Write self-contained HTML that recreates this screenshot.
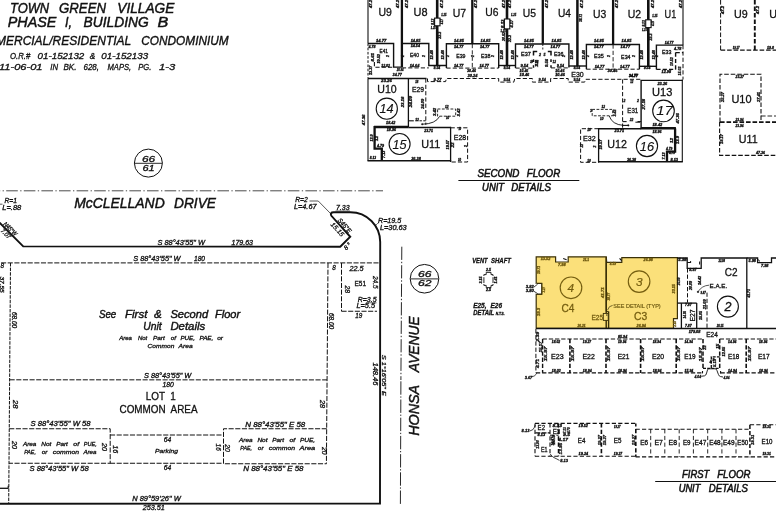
<!DOCTYPE html>
<html><head><meta charset="utf-8"><title>Parcel Map</title>
<style>
html,body{margin:0;padding:0;background:#fff;}
body{width:776px;height:521px;overflow:hidden;font-family:"Liberation Sans",sans-serif;}
svg{display:block;will-change:transform;font-family:"Liberation Sans",sans-serif;}
svg text{white-space:pre;stroke:#111;stroke-width:0.3px;}
</style></head><body>
<svg width="776" height="521" viewBox="0 0 776 521">
<rect x="0" y="0" width="776" height="521" fill="#fff"/>
<text x="10" y="12.8" style="font-size:14.4px;font-style:italic;stroke-width:0.45px;" fill="#111" textLength="39.2" lengthAdjust="spacingAndGlyphs">TOWN</text>
<text x="59" y="12.8" style="font-size:14.4px;font-style:italic;stroke-width:0.45px;" fill="#111" textLength="47" lengthAdjust="spacingAndGlyphs">GREEN</text>
<text x="117.3" y="12.8" style="font-size:14.4px;font-style:italic;stroke-width:0.45px;" fill="#111" textLength="57.0" lengthAdjust="spacingAndGlyphs">VILLAGE</text>
<text x="7.7" y="27.2" style="font-size:14.2px;font-style:italic;stroke-width:0.45px;" fill="#111" textLength="48.7" lengthAdjust="spacingAndGlyphs">PHASE</text>
<text x="65" y="27.2" style="font-size:14.2px;font-style:italic;stroke-width:0.45px;" fill="#111" textLength="7" lengthAdjust="spacingAndGlyphs">I,</text>
<text x="83.5" y="27.2" style="font-size:14.2px;font-style:italic;stroke-width:0.45px;" fill="#111" textLength="65.2" lengthAdjust="spacingAndGlyphs">BUILDING</text>
<text x="157.5" y="27.2" style="font-size:14.2px;font-style:italic;stroke-width:0.45px;" fill="#111" textLength="10.8" lengthAdjust="spacingAndGlyphs">B</text>
<text x="-4" y="45" style="font-size:12px;font-style:italic;stroke-width:0.35px;" fill="#111" textLength="135.2" lengthAdjust="spacingAndGlyphs">MERCIAL/RESIDENTIAL</text>
<text x="141.3" y="45" style="font-size:12px;font-style:italic;stroke-width:0.35px;" fill="#111" textLength="87.4" lengthAdjust="spacingAndGlyphs">CONDOMINIUM</text>
<text x="10" y="58.9" style="font-size:8.5px;font-style:italic;stroke-width:0.3px;" fill="#111" textLength="20.2" lengthAdjust="spacingAndGlyphs">O.R.#</text>
<text x="37.6" y="58.9" style="font-size:8.5px;font-style:italic;stroke-width:0.3px;" fill="#111" textLength="46.7" lengthAdjust="spacingAndGlyphs">01-152132</text>
<text x="89.7" y="58.9" style="font-size:8.5px;font-style:italic;stroke-width:0.3px;" fill="#111" textLength="5.4" lengthAdjust="spacingAndGlyphs">&amp;</text>
<text x="101.3" y="58.9" style="font-size:8.5px;font-style:italic;stroke-width:0.3px;" fill="#111" textLength="46.9" lengthAdjust="spacingAndGlyphs">01-152133</text>
<text x="-1" y="70" style="font-size:8.5px;font-style:italic;stroke-width:0.3px;" fill="#111" textLength="43.5" lengthAdjust="spacingAndGlyphs">11-06-01</text>
<text x="50.3" y="70" style="font-size:8.5px;font-style:italic;stroke-width:0.3px;" fill="#111" textLength="7.7" lengthAdjust="spacingAndGlyphs">IN</text>
<text x="63.4" y="70" style="font-size:8.5px;font-style:italic;stroke-width:0.3px;" fill="#111" textLength="13.1" lengthAdjust="spacingAndGlyphs">BK.</text>
<text x="83.5" y="70" style="font-size:8.5px;font-style:italic;stroke-width:0.3px;" fill="#111" textLength="15.5" lengthAdjust="spacingAndGlyphs">628,</text>
<text x="107.5" y="70" style="font-size:8.5px;font-style:italic;stroke-width:0.3px;" fill="#111" textLength="23.7" lengthAdjust="spacingAndGlyphs">MAPS,</text>
<text x="138.2" y="70" style="font-size:8.5px;font-style:italic;stroke-width:0.3px;" fill="#111" textLength="13.1" lengthAdjust="spacingAndGlyphs">PG.</text>
<text x="159" y="70" style="font-size:8.5px;font-style:italic;stroke-width:0.3px;" fill="#111" textLength="16.3" lengthAdjust="spacingAndGlyphs">1-3</text>
<circle cx="148.4" cy="163.1" r="14" fill="none" stroke="#111" stroke-width="1"/>
<line x1="134.8" y1="163.3" x2="162" y2="163.3" stroke="#111" stroke-width="0.9"/>
<text x="148.6" y="161.8" style="font-size:8.6px;font-style:italic;" fill="#111" textLength="13.2" lengthAdjust="spacingAndGlyphs" text-anchor="middle">66</text>
<text x="148.6" y="170.6" style="font-size:8.6px;font-style:italic;" fill="#111" textLength="12.2" lengthAdjust="spacingAndGlyphs" text-anchor="middle">61</text>
<line x1="-11.4" y1="190.8" x2="383" y2="190.8" stroke="#2a2a2a" stroke-width="0.85" stroke-dasharray="11.6 2.4 1.3 2.3"/>
<text x="74.2" y="208" style="font-size:14.5px;font-style:italic;stroke-width:0.45px;" fill="#111" textLength="90.5" lengthAdjust="spacingAndGlyphs">McCLELLAND</text>
<text x="174" y="208" style="font-size:14.5px;font-style:italic;stroke-width:0.45px;" fill="#111" textLength="42" lengthAdjust="spacingAndGlyphs">DRIVE</text>
<path d="M-1,222.2 L23.2,246.4 L340.25,246.75 L350.25,236.75 L331.4,215.8 Q329.6,212.3 333.6,212.3 L350.4,212.3 A29.8,29.8 0 0 1 380.2,242.1 L380,503.5 L0,503.8" fill="none" stroke="#111" stroke-width="1.9"/>
<line x1="-5.6" y1="262.9" x2="380" y2="262.9" stroke="#111" stroke-width="1" stroke-dasharray="5.1 1.55"/>
<line x1="10.5" y1="263" x2="8.7" y2="503" stroke="#111" stroke-width="1" stroke-dasharray="3.5 1.1"/>
<line x1="328" y1="263" x2="326.4" y2="463.75" stroke="#111" stroke-width="1" stroke-dasharray="5.1 1.55"/>
<line x1="9.6" y1="379.8" x2="327" y2="379.9" stroke="#111" stroke-width="1" stroke-dasharray="5.1 1.55"/>
<line x1="341.5" y1="263" x2="341.5" y2="311.25" stroke="#111" stroke-width="1" stroke-dasharray="5.1 1.55"/>
<line x1="341.5" y1="311.25" x2="377" y2="311.25" stroke="#111" stroke-width="1" stroke-dasharray="5.1 1.55"/>
<polyline points="9.2,428.75 110.2,428.75 110.2,463.25 9,463.25" fill="none" stroke="#111" stroke-width="1" stroke-dasharray="5.1 1.55" stroke-linejoin="miter"/>
<line x1="110" y1="435" x2="223.5" y2="435" stroke="#111" stroke-width="1" stroke-dasharray="5.1 1.55"/>
<line x1="110" y1="463.25" x2="223.5" y2="463.25" stroke="#111" stroke-width="1" stroke-dasharray="5.1 1.55"/>
<polyline points="326.8,428.75 223.5,428.75 223.5,463.75 326.5,463.75" fill="none" stroke="#111" stroke-width="1" stroke-dasharray="5.1 1.55" stroke-linejoin="miter"/>
<line x1="0" y1="488.3" x2="8.4" y2="488.3" stroke="#111" stroke-width="1.3"/>
<line x1="8.2" y1="485.8" x2="8.2" y2="488.3" stroke="#111" stroke-width="1.1"/>
<text x="4.4" y="202.9" style="font-size:6.3px;font-style:italic;" fill="#111" textLength="12.5" lengthAdjust="spacingAndGlyphs">R=1</text>
<text x="2.3" y="209.5" style="font-size:6.3px;font-style:italic;" fill="#111" textLength="19" lengthAdjust="spacingAndGlyphs">L=.88</text>
<line x1="0" y1="204.2" x2="2.5" y2="204.2" stroke="#111" stroke-width="0.7"/>
<text x="2.9" y="224.4" style="font-size:6.3px;font-style:italic;" fill="#111" textLength="17" lengthAdjust="spacingAndGlyphs" transform="rotate(45 2.9 224.4)">N45°W</text>
<text x="0.2" y="231.2" style="font-size:6.3px;font-style:italic;" fill="#111" textLength="11.5" lengthAdjust="spacingAndGlyphs" transform="rotate(45 0.2 231.2)">7.07</text>
<text x="157.5" y="245" style="font-size:6.3px;font-style:italic;" fill="#111" textLength="47.5" lengthAdjust="spacingAndGlyphs">S 88°43'55" W</text>
<text x="231.5" y="245" style="font-size:6.3px;font-style:italic;" fill="#111" textLength="21.5" lengthAdjust="spacingAndGlyphs">179.63</text>
<line x1="231" y1="246.2" x2="253" y2="246.2" stroke="#111" stroke-width="0.6"/>
<text x="133.25" y="260.5" style="font-size:6.3px;font-style:italic;" fill="#111" textLength="47.3" lengthAdjust="spacingAndGlyphs">S 88°43'55" W</text>
<text x="194" y="260.5" style="font-size:6.3px;font-style:italic;" fill="#111" textLength="11" lengthAdjust="spacingAndGlyphs">180</text>
<text x="295.25" y="202" style="font-size:6.3px;font-style:italic;" fill="#111" textLength="12.5" lengthAdjust="spacingAndGlyphs">R=2</text>
<text x="294" y="208.75" style="font-size:6.3px;font-style:italic;" fill="#111" textLength="22.5" lengthAdjust="spacingAndGlyphs">L=4.67</text>
<path d="M309.5,201 L318.25,201 L331,214" fill="none" stroke="#111" stroke-width="0.7"/>
<text x="336" y="209.5" style="font-size:6.3px;font-style:italic;" fill="#111" textLength="13.5" lengthAdjust="spacingAndGlyphs">7.33</text>
<line x1="335.5" y1="211" x2="350" y2="211" stroke="#111" stroke-width="0.6"/>
<text x="337.2" y="220.4" style="font-size:6.5px;font-style:italic;" fill="#111" textLength="17.5" lengthAdjust="spacingAndGlyphs" transform="rotate(48.5 337.2 220.4)">S45°E</text>
<text x="330.3" y="224.7" style="font-size:6.5px;font-style:italic;" fill="#111" textLength="16.5" lengthAdjust="spacingAndGlyphs" transform="rotate(48.5 330.3 224.7)">15.15</text>
<text x="346.2" y="250.4" style="font-size:6.3px;font-style:italic;" fill="#111" transform="rotate(-45 346.2 250.4)">8</text>
<text x="348.2" y="245.2" style="font-size:4.5px;font-style:italic;" fill="#111" transform="rotate(-45 348.2 245.2)">±</text>
<text x="378" y="223" style="font-size:6.3px;font-style:italic;" fill="#111" textLength="23.3" lengthAdjust="spacingAndGlyphs">R=19.5</text>
<text x="380" y="230" style="font-size:6.3px;font-style:italic;" fill="#111" textLength="26.7" lengthAdjust="spacingAndGlyphs">L=30.63</text>
<line x1="378.5" y1="222.5" x2="375.5" y2="225.5" stroke="#111" stroke-width="0.6"/>
<text x="98.9" y="318" style="font-size:10.5px;font-style:italic;stroke-width:0.4px;" fill="#111" textLength="17.4" lengthAdjust="spacingAndGlyphs">See</text>
<text x="125" y="318" style="font-size:10.5px;font-style:italic;stroke-width:0.4px;" fill="#111" textLength="22.4" lengthAdjust="spacingAndGlyphs">First</text>
<text x="154" y="318" style="font-size:10.5px;font-style:italic;stroke-width:0.4px;" fill="#111" textLength="7.8" lengthAdjust="spacingAndGlyphs">&amp;</text>
<text x="170.4" y="318" style="font-size:10.5px;font-style:italic;stroke-width:0.4px;" fill="#111" textLength="37.8" lengthAdjust="spacingAndGlyphs">Second</text>
<text x="215" y="318" style="font-size:10.5px;font-style:italic;stroke-width:0.4px;" fill="#111" textLength="25.2" lengthAdjust="spacingAndGlyphs">Floor</text>
<text x="143.3" y="330" style="font-size:10.5px;font-style:italic;stroke-width:0.4px;" fill="#111" textLength="18.4" lengthAdjust="spacingAndGlyphs">Unit</text>
<text x="170.4" y="330" style="font-size:10.5px;font-style:italic;stroke-width:0.4px;" fill="#111" textLength="34.8" lengthAdjust="spacingAndGlyphs">Details</text>
<text x="119.2" y="339.5" style="font-size:6px;font-style:italic;stroke-width:0.3px;" fill="#111" textLength="12.7" lengthAdjust="spacingAndGlyphs">Area</text>
<text x="137.9" y="339.5" style="font-size:6px;font-style:italic;stroke-width:0.3px;" fill="#111" textLength="9.3" lengthAdjust="spacingAndGlyphs">Not</text>
<text x="153" y="339.5" style="font-size:6px;font-style:italic;stroke-width:0.3px;" fill="#111" textLength="11.8" lengthAdjust="spacingAndGlyphs">Part</text>
<text x="170.8" y="339.5" style="font-size:6px;font-style:italic;stroke-width:0.3px;" fill="#111" textLength="5.2" lengthAdjust="spacingAndGlyphs">of</text>
<text x="180.4" y="339.5" style="font-size:6px;font-style:italic;stroke-width:0.3px;" fill="#111" textLength="14.6" lengthAdjust="spacingAndGlyphs">PUE,</text>
<text x="199.4" y="339.5" style="font-size:6px;font-style:italic;stroke-width:0.3px;" fill="#111" textLength="13.9" lengthAdjust="spacingAndGlyphs">PAE,</text>
<text x="217.2" y="339.5" style="font-size:6px;font-style:italic;stroke-width:0.3px;" fill="#111" textLength="5.8" lengthAdjust="spacingAndGlyphs">or</text>
<text x="147.6" y="347.5" style="font-size:6px;font-style:italic;stroke-width:0.3px;" fill="#111" textLength="26.7" lengthAdjust="spacingAndGlyphs">Common</text>
<text x="178.5" y="347.5" style="font-size:6px;font-style:italic;stroke-width:0.3px;" fill="#111" textLength="14.1" lengthAdjust="spacingAndGlyphs">Area</text>
<text x="332.25" y="270" style="font-size:6.3px;font-style:italic;" fill="#111">8</text>
<text x="349.5" y="270.5" style="font-size:6.3px;font-style:italic;" fill="#111" textLength="14" lengthAdjust="spacingAndGlyphs">22.5</text>
<text x="354.5" y="285.5" style="font-size:7px;" fill="#111" textLength="11.5" lengthAdjust="spacingAndGlyphs">E51</text>
<text x="373.2" y="276" style="font-size:6.3px;font-style:italic;" fill="#111" textLength="12.5" lengthAdjust="spacingAndGlyphs" transform="rotate(90 373.2 276)">24.5</text>
<text x="344.5" y="285.5" style="font-size:6.3px;font-style:italic;" fill="#111" textLength="7.5" lengthAdjust="spacingAndGlyphs" transform="rotate(90 344.5 285.5)">28</text>
<text x="357.75" y="301.75" style="font-size:6.3px;font-style:italic;" fill="#111" textLength="18.75" lengthAdjust="spacingAndGlyphs">R=3.5</text>
<line x1="366" y1="302.8" x2="376.5" y2="302.8" stroke="#111" stroke-width="0.6"/>
<text x="356.5" y="307.5" style="font-size:6.3px;font-style:italic;" fill="#111" textLength="18.5" lengthAdjust="spacingAndGlyphs">L=5.5</text>
<text x="355.25" y="317.5" style="font-size:6.3px;font-style:italic;" fill="#111" textLength="7" lengthAdjust="spacingAndGlyphs">19</text>
<text x="328.6" y="313" style="font-size:6.3px;font-style:italic;" fill="#111" textLength="16" lengthAdjust="spacingAndGlyphs" transform="rotate(90 328.6 313)">68.00</text>
<text x="11.5" y="312" style="font-size:6.3px;font-style:italic;" fill="#111" textLength="16" lengthAdjust="spacingAndGlyphs" transform="rotate(90 11.5 312)">68.00</text>
<text x="0.5" y="268" style="font-size:6.3px;font-style:italic;" fill="#111">8</text>
<text x="0" y="276.5" style="font-size:4.6px;font-style:italic;" fill="#111" textLength="16.2" lengthAdjust="spacingAndGlyphs" transform="rotate(90 0 276.5)">37.55</text>
<text x="382.2" y="354.8" style="font-size:5.6px;font-style:italic;" fill="#111" textLength="41" lengthAdjust="spacingAndGlyphs" transform="rotate(90 382.2 354.8)">S 1°16'05" E</text>
<text x="373.2" y="362.5" style="font-size:6.3px;font-style:italic;" fill="#111" textLength="23" lengthAdjust="spacingAndGlyphs" transform="rotate(90 373.2 362.5)">148.46</text>
<text x="144" y="378.2" style="font-size:6.3px;font-style:italic;" fill="#111" textLength="47.3" lengthAdjust="spacingAndGlyphs">S 88°43'55" W</text>
<text x="162.5" y="387" style="font-size:6.3px;font-style:italic;" fill="#111" textLength="11.3" lengthAdjust="spacingAndGlyphs">180</text>
<text x="145.75" y="400.2" style="font-size:10.6px;" fill="#111" textLength="30" lengthAdjust="spacingAndGlyphs">LOT  1</text>
<text x="119.5" y="412.7" style="font-size:10.6px;" fill="#111" textLength="78" lengthAdjust="spacingAndGlyphs">COMMON  AREA</text>
<text x="13" y="400" style="font-size:6.3px;font-style:italic;" fill="#111" textLength="8.5" lengthAdjust="spacingAndGlyphs" transform="rotate(90 13 400)">28</text>
<text x="320" y="400" style="font-size:6.3px;font-style:italic;" fill="#111" textLength="8" lengthAdjust="spacingAndGlyphs" transform="rotate(90 320 400)">28</text>
<text x="30.5" y="426.25" style="font-size:6.3px;font-style:italic;" fill="#111" textLength="60" lengthAdjust="spacingAndGlyphs">S 88°43'55" W 58</text>
<text x="245.25" y="426.75" style="font-size:6.3px;font-style:italic;" fill="#111" textLength="60" lengthAdjust="spacingAndGlyphs">N 88°43'55" E 58</text>
<text x="22.9" y="445.75" style="font-size:6px;font-style:italic;" fill="#111" textLength="13.5" lengthAdjust="spacingAndGlyphs">Area</text>
<text x="41.3" y="445.75" style="font-size:6px;font-style:italic;" fill="#111" textLength="10.1" lengthAdjust="spacingAndGlyphs">Not</text>
<text x="56.2" y="445.75" style="font-size:6px;font-style:italic;" fill="#111" textLength="11.7" lengthAdjust="spacingAndGlyphs">Part</text>
<text x="73.3" y="445.75" style="font-size:6px;font-style:italic;" fill="#111" textLength="5.8" lengthAdjust="spacingAndGlyphs">of</text>
<text x="83.8" y="445.75" style="font-size:6px;font-style:italic;" fill="#111" textLength="13.0" lengthAdjust="spacingAndGlyphs">PUE,</text>
<text x="24.2" y="453.75" style="font-size:6px;font-style:italic;" fill="#111" textLength="11.7" lengthAdjust="spacingAndGlyphs">PAE,</text>
<text x="41.7" y="453.75" style="font-size:6px;font-style:italic;" fill="#111" textLength="5.8" lengthAdjust="spacingAndGlyphs">or</text>
<text x="52.7" y="453.75" style="font-size:6px;font-style:italic;" fill="#111" textLength="26.4" lengthAdjust="spacingAndGlyphs">common</text>
<text x="83.4" y="453.75" style="font-size:6px;font-style:italic;" fill="#111" textLength="13.1" lengthAdjust="spacingAndGlyphs">Area</text>
<text x="239" y="441.75" style="font-size:6px;font-style:italic;" fill="#111" textLength="13.5" lengthAdjust="spacingAndGlyphs">Area</text>
<text x="257.4" y="441.75" style="font-size:6px;font-style:italic;" fill="#111" textLength="10.1" lengthAdjust="spacingAndGlyphs">Not</text>
<text x="272.3" y="441.75" style="font-size:6px;font-style:italic;" fill="#111" textLength="11.7" lengthAdjust="spacingAndGlyphs">Part</text>
<text x="289.4" y="441.75" style="font-size:6px;font-style:italic;" fill="#111" textLength="5.8" lengthAdjust="spacingAndGlyphs">of</text>
<text x="299.9" y="441.75" style="font-size:6px;font-style:italic;" fill="#111" textLength="15.3" lengthAdjust="spacingAndGlyphs">PUE,</text>
<text x="240.3" y="449.5" style="font-size:6px;font-style:italic;" fill="#111" textLength="11.7" lengthAdjust="spacingAndGlyphs">PAE,</text>
<text x="257.8" y="449.5" style="font-size:6px;font-style:italic;" fill="#111" textLength="5.8" lengthAdjust="spacingAndGlyphs">or</text>
<text x="268.8" y="449.5" style="font-size:6px;font-style:italic;" fill="#111" textLength="26.4" lengthAdjust="spacingAndGlyphs">common</text>
<text x="299.5" y="449.5" style="font-size:6px;font-style:italic;" fill="#111" textLength="15.7" lengthAdjust="spacingAndGlyphs">Area</text>
<text x="29.5" y="470.75" style="font-size:6.3px;font-style:italic;" fill="#111" textLength="59.25" lengthAdjust="spacingAndGlyphs">S 88°43'55" W 58</text>
<text x="243.25" y="471.25" style="font-size:6.3px;font-style:italic;" fill="#111" textLength="60.25" lengthAdjust="spacingAndGlyphs">N 88°43'55" E 58</text>
<text x="163.75" y="442" style="font-size:6.3px;font-style:italic;" fill="#111" textLength="7.5" lengthAdjust="spacingAndGlyphs">64</text>
<text x="155" y="452.5" style="font-size:6px;font-style:italic;" fill="#111" textLength="23" lengthAdjust="spacingAndGlyphs">Parking</text>
<text x="163.75" y="469.5" style="font-size:6.3px;font-style:italic;" fill="#111" textLength="7.5" lengthAdjust="spacingAndGlyphs">64</text>
<text x="132.3" y="501.3" style="font-size:6.3px;font-style:italic;" fill="#111" textLength="48.4" lengthAdjust="spacingAndGlyphs">N 89°59'26" W</text>
<text x="142.7" y="510.3" style="font-size:6.3px;font-style:italic;" fill="#111" textLength="22" lengthAdjust="spacingAndGlyphs">253.51</text>
<text x="12" y="441" style="font-size:6.3px;font-style:italic;" fill="#111" textLength="8" lengthAdjust="spacingAndGlyphs" transform="rotate(90 12 441)">20</text>
<text x="102.2" y="443" style="font-size:6.3px;font-style:italic;" fill="#111" textLength="8" lengthAdjust="spacingAndGlyphs" transform="rotate(90 102.2 443)">20</text>
<text x="113.4" y="445.2" style="font-size:6.3px;font-style:italic;" fill="#111" textLength="8" lengthAdjust="spacingAndGlyphs" transform="rotate(90 113.4 445.2)">16</text>
<text x="216" y="443.6" style="font-size:6.3px;font-style:italic;" fill="#111" textLength="7.2" lengthAdjust="spacingAndGlyphs" transform="rotate(90 216 443.6)">16</text>
<text x="224.8" y="444.2" style="font-size:6.3px;font-style:italic;" fill="#111" textLength="7.6" lengthAdjust="spacingAndGlyphs" transform="rotate(90 224.8 444.2)">20</text>
<text x="321.5" y="447" style="font-size:6.3px;font-style:italic;" fill="#111" textLength="7.5" lengthAdjust="spacingAndGlyphs" transform="rotate(90 321.5 447)">20</text>
<line x1="401.8" y1="246.7" x2="400.9" y2="380" stroke="#111" stroke-width="0.9" stroke-dasharray="13.2 1.9 1.4 2"/>
<line x1="400.4" y1="503.9" x2="400.9" y2="380" stroke="#111" stroke-width="0.9" stroke-dasharray="13.4 1.8 1.3 1.7"/>
<text x="419.2" y="435.8" style="font-size:14.5px;font-style:italic;stroke-width:0.45px;" fill="#111" textLength="51" lengthAdjust="spacingAndGlyphs" transform="rotate(-90 419.2 435.8)">HONSA</text>
<text x="419.2" y="372.3" style="font-size:14.5px;font-style:italic;stroke-width:0.45px;" fill="#111" textLength="56" lengthAdjust="spacingAndGlyphs" transform="rotate(-90 419.2 372.3)">AVENUE</text>
<circle cx="424.5" cy="278.75" r="14.3" fill="none" stroke="#111" stroke-width="1"/>
<line x1="410.6" y1="278.9" x2="438.4" y2="278.9" stroke="#111" stroke-width="0.9"/>
<text x="424.7" y="277" style="font-size:9px;font-style:italic;" fill="#111" textLength="13.5" lengthAdjust="spacingAndGlyphs" text-anchor="middle">66</text>
<text x="424.7" y="286.4" style="font-size:9px;font-style:italic;" fill="#111" textLength="13.5" lengthAdjust="spacingAndGlyphs" text-anchor="middle">62</text>
<line x1="368" y1="0" x2="368" y2="43.5" stroke="#111" stroke-width="1.1"/>
<line x1="368" y1="78.5" x2="368" y2="160.7" stroke="#111" stroke-width="1.1"/>
<line x1="683" y1="0" x2="683" y2="45" stroke="#111" stroke-width="1.1"/>
<line x1="682.3" y1="79.5" x2="682.3" y2="161.9" stroke="#111" stroke-width="1.1"/>
<line x1="401.9" y1="0" x2="401.9" y2="67.1" stroke="#111" stroke-width="2.3"/>
<line x1="437.2" y1="0" x2="437.2" y2="65.5" stroke="#111" stroke-width="2.6"/>
<line x1="472.3" y1="0" x2="472.3" y2="43.8" stroke="#111" stroke-width="2.3"/>
<line x1="507.0" y1="0" x2="507.0" y2="65.5" stroke="#111" stroke-width="2.6"/>
<line x1="542.8" y1="0" x2="542.8" y2="43.8" stroke="#111" stroke-width="2.3"/>
<line x1="577.4" y1="0" x2="577.4" y2="66" stroke="#111" stroke-width="2.5"/>
<line x1="613.1" y1="0" x2="613.1" y2="44.3" stroke="#111" stroke-width="2.3"/>
<line x1="648.3" y1="0" x2="648.3" y2="66.3" stroke="#111" stroke-width="2.6"/>
<rect x="434.59999999999997" y="18.1" width="5.4" height="7.7" fill="#fff" stroke="#111" stroke-width="1.1"/>
<text x="441.2" y="15.500000000000002" style="font-size:3.3px;font-style:italic;font-weight:bold;" fill="#111" textLength="5.2" lengthAdjust="spacingAndGlyphs">1.25</text>
<text x="430.8" y="28.8" style="font-size:3.3px;font-style:italic;font-weight:bold;" fill="#111" textLength="5.0" lengthAdjust="spacingAndGlyphs">1.25</text>
<text x="434.0" y="24.8" style="font-size:3.3px;font-style:italic;font-weight:bold;" fill="#111" textLength="6.2" lengthAdjust="spacingAndGlyphs" transform="rotate(-90 434.0 24.8)">8.13</text>
<text x="443.0" y="24.3" style="font-size:3.3px;font-style:italic;font-weight:bold;" fill="#111" textLength="5.2" lengthAdjust="spacingAndGlyphs" transform="rotate(-90 443.0 24.3)">4.17</text>
<text x="441.4" y="38.8" style="font-size:3.3px;font-style:italic;font-weight:bold;" fill="#111" textLength="7.0" lengthAdjust="spacingAndGlyphs" transform="rotate(-90 441.4 38.8)">22.2</text>
<rect x="504.4" y="19" width="5.4" height="9.9" fill="#fff" stroke="#111" stroke-width="1.1"/>
<text x="511.0" y="16.4" style="font-size:3.3px;font-style:italic;font-weight:bold;" fill="#111" textLength="5.2" lengthAdjust="spacingAndGlyphs">1.25</text>
<text x="500.6" y="31.9" style="font-size:3.3px;font-style:italic;font-weight:bold;" fill="#111" textLength="5.0" lengthAdjust="spacingAndGlyphs">1.25</text>
<text x="503.8" y="27.9" style="font-size:3.3px;font-style:italic;font-weight:bold;" fill="#111" textLength="8.4" lengthAdjust="spacingAndGlyphs" transform="rotate(-90 503.8 27.9)">8.13</text>
<text x="512.8" y="27.4" style="font-size:3.3px;font-style:italic;font-weight:bold;" fill="#111" textLength="7.4" lengthAdjust="spacingAndGlyphs" transform="rotate(-90 512.8 27.4)">4.17</text>
<text x="511.2" y="41.9" style="font-size:3.3px;font-style:italic;font-weight:bold;" fill="#111" textLength="7.0" lengthAdjust="spacingAndGlyphs" transform="rotate(-90 511.2 41.9)">22.2</text>
<rect x="645.6999999999999" y="19.8" width="5.4" height="7.8" fill="#fff" stroke="#111" stroke-width="1.1"/>
<text x="652.3" y="17.2" style="font-size:3.3px;font-style:italic;font-weight:bold;" fill="#111" textLength="5.2" lengthAdjust="spacingAndGlyphs">1.25</text>
<text x="641.9" y="30.6" style="font-size:3.3px;font-style:italic;font-weight:bold;" fill="#111" textLength="5.0" lengthAdjust="spacingAndGlyphs">1.25</text>
<text x="645.0999999999999" y="26.6" style="font-size:3.3px;font-style:italic;font-weight:bold;" fill="#111" textLength="6.3" lengthAdjust="spacingAndGlyphs" transform="rotate(-90 645.0999999999999 26.6)">8.13</text>
<text x="654.0999999999999" y="26.1" style="font-size:3.3px;font-style:italic;font-weight:bold;" fill="#111" textLength="5.3" lengthAdjust="spacingAndGlyphs" transform="rotate(-90 654.0999999999999 26.1)">4.17</text>
<text x="652.5" y="40.6" style="font-size:3.3px;font-style:italic;font-weight:bold;" fill="#111" textLength="7.0" lengthAdjust="spacingAndGlyphs" transform="rotate(-90 652.5 40.6)">22.2</text>
<text x="372" y="8" style="font-size:3.3px;font-style:italic;font-weight:bold;" fill="#111" textLength="8" lengthAdjust="spacingAndGlyphs" transform="rotate(-90 372 8)">47.2</text>
<text x="399" y="8" style="font-size:3.3px;font-style:italic;font-weight:bold;" fill="#111" textLength="8" lengthAdjust="spacingAndGlyphs" transform="rotate(-90 399 8)">47.2</text>
<text x="408.4" y="8" style="font-size:3.3px;font-style:italic;font-weight:bold;" fill="#111" textLength="8" lengthAdjust="spacingAndGlyphs" transform="rotate(-90 408.4 8)">47.2</text>
<text x="443.4" y="8" style="font-size:3.3px;font-style:italic;font-weight:bold;" fill="#111" textLength="8" lengthAdjust="spacingAndGlyphs" transform="rotate(-90 443.4 8)">47.2</text>
<text x="477" y="8" style="font-size:3.3px;font-style:italic;font-weight:bold;" fill="#111" textLength="8" lengthAdjust="spacingAndGlyphs" transform="rotate(-90 477 8)">47.2</text>
<text x="505.3" y="8" style="font-size:3.3px;font-style:italic;font-weight:bold;" fill="#111" textLength="8" lengthAdjust="spacingAndGlyphs" transform="rotate(-90 505.3 8)">47.2</text>
<text x="510.8" y="8" style="font-size:3.3px;font-style:italic;font-weight:bold;" fill="#111" textLength="8" lengthAdjust="spacingAndGlyphs" transform="rotate(-90 510.8 8)">47.2</text>
<text x="547.5" y="8" style="font-size:3.3px;font-style:italic;font-weight:bold;" fill="#111" textLength="8" lengthAdjust="spacingAndGlyphs" transform="rotate(-90 547.5 8)">47.2</text>
<text x="583" y="8" style="font-size:3.3px;font-style:italic;font-weight:bold;" fill="#111" textLength="8" lengthAdjust="spacingAndGlyphs" transform="rotate(-90 583 8)">47.2</text>
<text x="618" y="8" style="font-size:3.3px;font-style:italic;font-weight:bold;" fill="#111" textLength="8" lengthAdjust="spacingAndGlyphs" transform="rotate(-90 618 8)">47.2</text>
<text x="654" y="8" style="font-size:3.3px;font-style:italic;font-weight:bold;" fill="#111" textLength="8" lengthAdjust="spacingAndGlyphs" transform="rotate(-90 654 8)">47.2</text>
<text x="682.2" y="8" style="font-size:3.3px;font-style:italic;font-weight:bold;" fill="#111" textLength="8" lengthAdjust="spacingAndGlyphs" transform="rotate(-90 682.2 8)">47.2</text>
<text x="581.7" y="22" style="font-size:3.3px;font-style:italic;font-weight:bold;" fill="#111" textLength="8" lengthAdjust="spacingAndGlyphs" transform="rotate(-90 581.7 22)">38.71</text>
<text x="504.5" y="41" style="font-size:3.3px;font-style:italic;font-weight:bold;" fill="#111" textLength="9" lengthAdjust="spacingAndGlyphs" transform="rotate(-90 504.5 41)">20.62</text>
<polyline points="368,43.5 393.6,43.5 393.6,67.1 401.9,67.1" fill="none" stroke="#111" stroke-width="1.4" stroke-linejoin="miter"/>
<polyline points="401.9,43.5 428.8,43.5 428.8,65.5 446.4,65.5" fill="none" stroke="#111" stroke-width="1.4" stroke-linejoin="miter"/>
<polyline points="446.4,68.1 446.4,43.8 498.7,43.8 498.7,68.1" fill="none" stroke="#111" stroke-width="1.4" stroke-linejoin="miter"/>
<polyline points="498.7,65.5 515.5,65.5" fill="none" stroke="#111" stroke-width="1.4" stroke-linejoin="miter"/>
<polyline points="515.5,68.1 515.5,44 568.9,44 568.9,67.6" fill="none" stroke="#111" stroke-width="1.4" stroke-linejoin="miter"/>
<polyline points="568.9,66 586.4,66" fill="none" stroke="#111" stroke-width="1.4" stroke-linejoin="miter"/>
<polyline points="586.4,69.2 586.4,44.5 639.4,44.5 639.4,69.2" fill="none" stroke="#111" stroke-width="1.4" stroke-linejoin="miter"/>
<polyline points="639.4,66.3 656.4,66.3" fill="none" stroke="#111" stroke-width="1.4" stroke-linejoin="miter"/>
<polyline points="656.4,69.4 656.4,45.1 683.2,45.1" fill="none" stroke="#111" stroke-width="1.4" stroke-linejoin="miter"/>
<line x1="368" y1="43.5" x2="368" y2="78.5" stroke="#111" stroke-width="1" stroke-dasharray="2.6 1.6"/>
<polyline points="374.4,62 374.4,67.3 393.6,67.3" fill="none" stroke="#111" stroke-width="1.1" stroke-dasharray="4.2 2.1" stroke-linejoin="miter"/>
<line x1="401.9" y1="67.9" x2="428.8" y2="67.9" stroke="#111" stroke-width="1" stroke-dasharray="4.2 2.1"/>
<line x1="446.4" y1="68.1" x2="498.7" y2="68.1" stroke="#111" stroke-width="1" stroke-dasharray="4.2 2.1"/>
<line x1="472.3" y1="44" x2="472.3" y2="68.1" stroke="#111" stroke-width="0.9" stroke-dasharray="4.2 2.1"/>
<line x1="586.4" y1="69.2" x2="639.4" y2="69.2" stroke="#111" stroke-width="1" stroke-dasharray="4.2 2.1"/>
<line x1="613.1" y1="44.5" x2="613.1" y2="69.2" stroke="#111" stroke-width="0.9" stroke-dasharray="4.2 2.1"/>
<line x1="515.5" y1="68.1" x2="532.4" y2="68.1" stroke="#111" stroke-width="1" stroke-dasharray="4.2 2.1"/>
<line x1="551" y1="67.9" x2="568.9" y2="67.9" stroke="#111" stroke-width="1" stroke-dasharray="4.2 2.1"/>
<polyline points="533.5,55.4 533.5,51.6 537.2,51.6" fill="none" stroke="#111" stroke-width="1.5" stroke-linejoin="miter"/>
<polyline points="551,55.4 551,51.6 547.8,51.6" fill="none" stroke="#111" stroke-width="1.5" stroke-linejoin="miter"/>
<line x1="533.5" y1="59.3" x2="533.5" y2="67.8" stroke="#111" stroke-width="1.5" stroke-dasharray="2.8 3.2"/>
<line x1="551" y1="59.3" x2="551" y2="67.8" stroke="#111" stroke-width="1.5" stroke-dasharray="2.8 3.2"/>
<line x1="542.8" y1="44" x2="542.8" y2="50" stroke="#111" stroke-width="0.9" stroke-dasharray="2 1.5"/>
<text x="539" y="55.6" style="font-size:3.6px;font-style:italic;font-weight:bold;" fill="#111">2</text>
<text x="543.6" y="55.6" style="font-size:3.6px;font-style:italic;font-weight:bold;" fill="#111">5</text>
<text x="530" y="62.5" style="font-size:3.3px;font-style:italic;font-weight:bold;" fill="#111" textLength="3" lengthAdjust="spacingAndGlyphs">9</text>
<text x="535" y="63" style="font-size:3.6px;font-style:italic;font-weight:bold;" fill="#111" textLength="3.5" lengthAdjust="spacingAndGlyphs">12</text>
<text x="552.5" y="62.5" style="font-size:3.6px;font-style:italic;font-weight:bold;" fill="#111" textLength="3.5" lengthAdjust="spacingAndGlyphs">12</text>
<text x="548.4" y="67" style="font-size:3.3px;font-style:italic;font-weight:bold;" fill="#111" textLength="8" lengthAdjust="spacingAndGlyphs" transform="rotate(-90 548.4 67)">9.56</text>
<text x="537.6" y="67" style="font-size:3.3px;font-style:italic;font-weight:bold;" fill="#111" textLength="7" lengthAdjust="spacingAndGlyphs" transform="rotate(-90 537.6 67)">12</text>
<polyline points="656.4,69.4 675.6,69.4" fill="none" stroke="#111" stroke-width="1.1" stroke-dasharray="4.2 2.1" stroke-linejoin="miter"/>
<line x1="675.6" y1="52.6" x2="675.6" y2="69.4" stroke="#111" stroke-width="1.4" stroke-dasharray="4.2 2.1"/>
<line x1="675.6" y1="52.6" x2="683.2" y2="52.6" stroke="#111" stroke-width="1.4" stroke-dasharray="4.2 2.1"/>
<line x1="683" y1="45.1" x2="683" y2="79.5" stroke="#111" stroke-width="1" stroke-dasharray="4.2 2.1"/>
<polyline points="427.5,78.5 427.5,81.6 445.6,81.6 446.4,78.5 498.7,78.5 498.7,82.1 513.8,82.1 514.8,78.5 532.4,78.5 532.4,82.1 550.6,82.1 550.6,78.5 568.2,78.5 568.2,82.1 584.6,82.1 585.8,79.3 641.1,79.3" fill="none" stroke="#111" stroke-width="1" stroke-dasharray="4.2 2.1" stroke-linejoin="miter"/>
<polyline points="368,78.5 426.5,78.5" fill="none" stroke="#111" stroke-width="1.3" stroke-linejoin="miter"/>
<line x1="408.4" y1="78.5" x2="408.4" y2="127.4" stroke="#111" stroke-width="1.3"/>
<line x1="425.8" y1="78.5" x2="425.8" y2="124.9" stroke="#111" stroke-width="1" stroke-dasharray="4.2 2.1"/>
<line x1="408.4" y1="120.8" x2="413.8" y2="120.8" stroke="#111" stroke-width="1.1"/>
<line x1="419.5" y1="120.8" x2="425.8" y2="120.8" stroke="#111" stroke-width="1" stroke-dasharray="2.4 1.4"/>
<circle cx="422.2" cy="124.2" r="0.8" fill="#111" stroke="#111" stroke-width="0.4"/>
<polyline points="408.4,127.2 374.6,127.2 374.6,148.7 381.8,148.7 381.8,160.7" fill="none" stroke="#111" stroke-width="2.3" stroke-linejoin="miter"/>
<line x1="374" y1="126.4" x2="408.4" y2="126.4" stroke="#111" stroke-width="1.2"/>
<line x1="408.4" y1="127.5" x2="450.6" y2="127.5" stroke="#111" stroke-width="1.6"/>
<line x1="450.6" y1="126.8" x2="450.6" y2="162" stroke="#111" stroke-width="1.3"/>
<line x1="367.5" y1="160.7" x2="451.2" y2="160.7" stroke="#111" stroke-width="1.4"/>
<path d="M422.3,124.2 Q435.5,124 439.6,116.4" fill="none" stroke="#111" stroke-width="0.9"/>
<rect x="437.6" y="109" width="18.1" height="7.2" fill="none" stroke="#111" stroke-width="0.9" stroke-dasharray="2.8 1.5"/>
<polyline points="450.6,127.8 467.6,127.8 467.6,162 450.6,162" fill="none" stroke="#111" stroke-width="1" stroke-dasharray="4.2 2.1" stroke-linejoin="miter"/>
<polyline points="641.1,128 641.1,80.4 682.8,80.4" fill="none" stroke="#111" stroke-width="1.4" stroke-linejoin="miter"/>
<line x1="641.1" y1="127.7" x2="675.8" y2="127.7" stroke="#111" stroke-width="1.3"/>
<line x1="598.6" y1="128.7" x2="641.1" y2="128.7" stroke="#111" stroke-width="1.5"/>
<line x1="640.5" y1="128.5" x2="676" y2="128.5" stroke="#111" stroke-width="1.9"/>
<line x1="598.6" y1="128" x2="598.6" y2="162.5" stroke="#111" stroke-width="1.3"/>
<line x1="598" y1="161.7" x2="682.8" y2="161.7" stroke="#111" stroke-width="1.4"/>
<polyline points="675.1,128.6 675.1,151.7 667,151.7 667,161.9" fill="none" stroke="#111" stroke-width="2.3" stroke-linejoin="miter"/>
<line x1="622.6" y1="79.4" x2="622.6" y2="128.7" stroke="#111" stroke-width="1" stroke-dasharray="4.2 2.1"/>
<line x1="637.5" y1="121.6" x2="641.1" y2="121.6" stroke="#111" stroke-width="1.1"/>
<line x1="622.6" y1="121.6" x2="626.6" y2="121.6" stroke="#111" stroke-width="1.1"/>
<line x1="635.4" y1="122.2" x2="640" y2="122.2" stroke="#111" stroke-width="1"/>
<line x1="622.6" y1="125.4" x2="628.3" y2="125.4" stroke="#111" stroke-width="1.1"/>
<circle cx="628.3" cy="125.4" r="0.8" fill="#111" stroke="#111" stroke-width="0.4"/>
<path d="M609.3,116 Q612,124.6 623.4,125.4" fill="none" stroke="#111" stroke-width="0.9"/>
<rect x="592.2" y="109.4" width="20.5" height="6.4" fill="none" stroke="#111" stroke-width="0.9" stroke-dasharray="2.8 1.5"/>
<polyline points="598.6,128.7 580.6,128.7 580.6,162.3 598.6,162.3" fill="none" stroke="#111" stroke-width="1" stroke-dasharray="4.2 2.1" stroke-linejoin="miter"/>
<circle cx="386.8" cy="108.7" r="10.6" fill="none" stroke="#111" stroke-width="1.1"/>
<text x="386.6" y="113.3" style="font-size:12.6px;font-style:italic;stroke-width:0.12px;" fill="#111" textLength="14.2" lengthAdjust="spacingAndGlyphs" text-anchor="middle">14</text>
<circle cx="399.6" cy="144" r="10.5" fill="none" stroke="#111" stroke-width="1.1"/>
<text x="399.5" y="148.6" style="font-size:12.6px;font-style:italic;stroke-width:0.12px;" fill="#111" textLength="14.1" lengthAdjust="spacingAndGlyphs" text-anchor="middle">15</text>
<circle cx="663.5" cy="110.9" r="10.8" fill="none" stroke="#111" stroke-width="1.1"/>
<text x="664.6" y="115.2" style="font-size:12.6px;font-style:italic;stroke-width:0.12px;" fill="#111" textLength="16.5" lengthAdjust="spacingAndGlyphs" text-anchor="middle">17</text>
<circle cx="647" cy="146" r="10.6" fill="none" stroke="#111" stroke-width="1.1"/>
<text x="647" y="150.5" style="font-size:12.6px;font-style:italic;stroke-width:0.12px;" fill="#111" textLength="14.3" lengthAdjust="spacingAndGlyphs" text-anchor="middle">16</text>
<text x="378.5" y="16.1" style="font-size:11.6px;" fill="#111" textLength="13.4" lengthAdjust="spacingAndGlyphs">U9</text>
<text x="413.5" y="16.1" style="font-size:11.6px;" fill="#111" textLength="14" lengthAdjust="spacingAndGlyphs">U8</text>
<text x="452.7" y="17.1" style="font-size:11.6px;" fill="#111" textLength="13.4" lengthAdjust="spacingAndGlyphs">U7</text>
<text x="485.3" y="16.1" style="font-size:11.6px;" fill="#111" textLength="13.2" lengthAdjust="spacingAndGlyphs">U6</text>
<text x="522.8" y="17.3" style="font-size:11.6px;" fill="#111" textLength="13.2" lengthAdjust="spacingAndGlyphs">U5</text>
<text x="558" y="17.3" style="font-size:11.6px;" fill="#111" textLength="13" lengthAdjust="spacingAndGlyphs">U4</text>
<text x="593.1" y="17.7" style="font-size:11.6px;" fill="#111" textLength="13.3" lengthAdjust="spacingAndGlyphs">U3</text>
<text x="627.8" y="17.7" style="font-size:11.6px;" fill="#111" textLength="13.4" lengthAdjust="spacingAndGlyphs">U2</text>
<text x="664.6" y="17.7" style="font-size:11.6px;" fill="#111" textLength="11.7" lengthAdjust="spacingAndGlyphs">U1</text>
<text x="377.3" y="93.4" style="font-size:11.6px;" fill="#111" textLength="19.4" lengthAdjust="spacingAndGlyphs">U10</text>
<text x="421.2" y="147.7" style="font-size:11.6px;" fill="#111" textLength="19" lengthAdjust="spacingAndGlyphs">U11</text>
<text x="652" y="96.4" style="font-size:11.6px;" fill="#111" textLength="20.3" lengthAdjust="spacingAndGlyphs">U13</text>
<text x="607.3" y="148.1" style="font-size:11.6px;" fill="#111" textLength="19.6" lengthAdjust="spacingAndGlyphs">U12</text>
<text x="379.6" y="52.6" style="font-size:5.6px;" fill="#111" textLength="8.3" lengthAdjust="spacingAndGlyphs">E41</text>
<text x="409.9" y="57" style="font-size:5.6px;" fill="#111" textLength="9.1" lengthAdjust="spacingAndGlyphs">E40</text>
<text x="456.2" y="57.8" style="font-size:5.6px;" fill="#111" textLength="9.3" lengthAdjust="spacingAndGlyphs">E39</text>
<text x="481" y="57.8" style="font-size:5.6px;" fill="#111" textLength="9.4" lengthAdjust="spacingAndGlyphs">E38</text>
<text x="521" y="55.9" style="font-size:5.6px;" fill="#111" textLength="9.9" lengthAdjust="spacingAndGlyphs">E37</text>
<text x="553.9" y="55.9" style="font-size:5.6px;" fill="#111" textLength="9.6" lengthAdjust="spacingAndGlyphs">E36</text>
<text x="594.1" y="58.1" style="font-size:5.6px;" fill="#111" textLength="9.7" lengthAdjust="spacingAndGlyphs">E35</text>
<text x="621.1" y="58.8" style="font-size:5.6px;" fill="#111" textLength="9.5" lengthAdjust="spacingAndGlyphs">E34</text>
<text x="662.1" y="53.8" style="font-size:5.6px;" fill="#111" textLength="9.4" lengthAdjust="spacingAndGlyphs">E33</text>
<text x="571.3" y="76.9" style="font-size:7px;" fill="#111" textLength="12.4" lengthAdjust="spacingAndGlyphs">E30</text>
<text x="411.9" y="92" style="font-size:7px;" fill="#111" textLength="12" lengthAdjust="spacingAndGlyphs">E29</text>
<text x="453.8" y="140.2" style="font-size:7px;" fill="#111" textLength="12.4" lengthAdjust="spacingAndGlyphs">E28</text>
<text x="627.3" y="112.6" style="font-size:7px;" fill="#111" textLength="10.9" lengthAdjust="spacingAndGlyphs">E31</text>
<text x="583" y="141.1" style="font-size:7px;" fill="#111" textLength="12.7" lengthAdjust="spacingAndGlyphs">E32</text>
<text x="376" y="41.7" style="font-size:3.3px;font-style:italic;font-weight:bold;" fill="#111" textLength="10.4" lengthAdjust="spacingAndGlyphs">14.77</text>
<text x="410.7" y="42.2" style="font-size:3.3px;font-style:italic;font-weight:bold;" fill="#111" textLength="9.8" lengthAdjust="spacingAndGlyphs">14.85</text>
<text x="454.1" y="42.2" style="font-size:3.3px;font-style:italic;font-weight:bold;" fill="#111" textLength="9.8" lengthAdjust="spacingAndGlyphs">14.85</text>
<text x="480.6" y="42.2" style="font-size:3.3px;font-style:italic;font-weight:bold;" fill="#111" textLength="9.8" lengthAdjust="spacingAndGlyphs">14.85</text>
<text x="524.1" y="42.2" style="font-size:3.3px;font-style:italic;font-weight:bold;" fill="#111" textLength="9.8" lengthAdjust="spacingAndGlyphs">14.85</text>
<text x="551.6" y="42.2" style="font-size:3.3px;font-style:italic;font-weight:bold;" fill="#111" textLength="9.8" lengthAdjust="spacingAndGlyphs">14.85</text>
<text x="594.1" y="42.2" style="font-size:3.3px;font-style:italic;font-weight:bold;" fill="#111" textLength="9.8" lengthAdjust="spacingAndGlyphs">14.85</text>
<text x="621.6" y="42.2" style="font-size:3.3px;font-style:italic;font-weight:bold;" fill="#111" textLength="9.8" lengthAdjust="spacingAndGlyphs">14.85</text>
<text x="664.7" y="43.8" style="font-size:3.3px;font-style:italic;font-weight:bold;" fill="#111" textLength="8.8" lengthAdjust="spacingAndGlyphs">14.77</text>
<text x="410.7" y="46.6" style="font-size:3.3px;font-style:italic;font-weight:bold;" fill="#111" textLength="9.3" lengthAdjust="spacingAndGlyphs">14.54</text>
<text x="454" y="48" style="font-size:3.3px;font-style:italic;font-weight:bold;" fill="#111" textLength="9.5" lengthAdjust="spacingAndGlyphs">14.77</text>
<text x="480" y="48" style="font-size:3.3px;font-style:italic;font-weight:bold;" fill="#111" textLength="9.5" lengthAdjust="spacingAndGlyphs">14.77</text>
<text x="524.1" y="48" style="font-size:3.3px;font-style:italic;font-weight:bold;" fill="#111" textLength="9.5" lengthAdjust="spacingAndGlyphs">14.77</text>
<text x="550.6" y="48" style="font-size:3.3px;font-style:italic;font-weight:bold;" fill="#111" textLength="9.5" lengthAdjust="spacingAndGlyphs">14.77</text>
<text x="594.1" y="48" style="font-size:3.3px;font-style:italic;font-weight:bold;" fill="#111" textLength="9.5" lengthAdjust="spacingAndGlyphs">14.77</text>
<text x="620.6" y="48" style="font-size:3.3px;font-style:italic;font-weight:bold;" fill="#111" textLength="9.5" lengthAdjust="spacingAndGlyphs">14.77</text>
<text x="409.7" y="66.6" style="font-size:3.3px;font-style:italic;font-weight:bold;" fill="#111" textLength="9.8" lengthAdjust="spacingAndGlyphs">14.64</text>
<text x="381.2" y="66.6" style="font-size:3.3px;font-style:italic;font-weight:bold;" fill="#111" textLength="8.8" lengthAdjust="spacingAndGlyphs">12.02</text>
<text x="454" y="67" style="font-size:3.3px;font-style:italic;font-weight:bold;" fill="#111" textLength="9.5" lengthAdjust="spacingAndGlyphs">14.77</text>
<text x="479.5" y="67" style="font-size:3.3px;font-style:italic;font-weight:bold;" fill="#111" textLength="9.5" lengthAdjust="spacingAndGlyphs">14.77</text>
<text x="594.7" y="67.9" style="font-size:3.3px;font-style:italic;font-weight:bold;" fill="#111" textLength="9.6" lengthAdjust="spacingAndGlyphs">14.77</text>
<text x="620" y="67.9" style="font-size:3.3px;font-style:italic;font-weight:bold;" fill="#111" textLength="9.6" lengthAdjust="spacingAndGlyphs">14.77</text>
<text x="520.5" y="67.1" style="font-size:3.3px;font-style:italic;font-weight:bold;" fill="#111" textLength="7.8" lengthAdjust="spacingAndGlyphs">9.54</text>
<text x="556.8" y="67.1" style="font-size:3.3px;font-style:italic;font-weight:bold;" fill="#111" textLength="7.2" lengthAdjust="spacingAndGlyphs">9.54</text>
<text x="519.5" y="72.3" style="font-size:3.3px;font-style:italic;font-weight:bold;" fill="#111" textLength="8.8" lengthAdjust="spacingAndGlyphs">10.46</text>
<text x="555.2" y="72.3" style="font-size:3.3px;font-style:italic;font-weight:bold;" fill="#111" textLength="9.3" lengthAdjust="spacingAndGlyphs">10.46</text>
<text x="519.5" y="76.4" style="font-size:3.3px;font-style:italic;font-weight:bold;" fill="#111" textLength="9.8" lengthAdjust="spacingAndGlyphs">10.46</text>
<text x="555.2" y="76.4" style="font-size:3.3px;font-style:italic;font-weight:bold;" fill="#111" textLength="9.8" lengthAdjust="spacingAndGlyphs">10.46</text>
<text x="538.6" y="80.6" style="font-size:3.3px;font-style:italic;font-weight:bold;" fill="#111" textLength="7.3" lengthAdjust="spacingAndGlyphs">9.54</text>
<text x="433.5" y="69.3" style="font-size:3.3px;font-style:italic;font-weight:bold;" fill="#111" textLength="6.8" lengthAdjust="spacingAndGlyphs">9.54</text>
<text x="503.4" y="69.3" style="font-size:3.3px;font-style:italic;font-weight:bold;" fill="#111" textLength="6.8" lengthAdjust="spacingAndGlyphs">9.54</text>
<text x="573.4" y="69.3" style="font-size:3.3px;font-style:italic;font-weight:bold;" fill="#111" textLength="6.8" lengthAdjust="spacingAndGlyphs">9.54</text>
<text x="643.7" y="69.3" style="font-size:3.3px;font-style:italic;font-weight:bold;" fill="#111" textLength="6.8" lengthAdjust="spacingAndGlyphs">9.54</text>
<text x="503.4" y="81" style="font-size:3.3px;font-style:italic;font-weight:bold;" fill="#111" textLength="6.8" lengthAdjust="spacingAndGlyphs">9.54</text>
<text x="573.4" y="81" style="font-size:3.3px;font-style:italic;font-weight:bold;" fill="#111" textLength="6.8" lengthAdjust="spacingAndGlyphs">9.54</text>
<text x="433.6" y="80.8" style="font-size:3.3px;font-style:italic;font-weight:bold;" fill="#111" textLength="7.8" lengthAdjust="spacingAndGlyphs">9.77</text>
<text x="396.7" y="70.7" style="font-size:3.3px;font-style:italic;font-weight:bold;" fill="#111" textLength="6.8" lengthAdjust="spacingAndGlyphs">20.94</text>
<text x="392.6" y="75.9" style="font-size:3.3px;font-style:italic;font-weight:bold;" fill="#111" textLength="9.3" lengthAdjust="spacingAndGlyphs">34.77</text>
<text x="467" y="72.3" style="font-size:3.3px;font-style:italic;font-weight:bold;" fill="#111" textLength="9" lengthAdjust="spacingAndGlyphs">30.46</text>
<text x="467.6" y="76.7" style="font-size:3.3px;font-style:italic;font-weight:bold;" fill="#111" textLength="9.9" lengthAdjust="spacingAndGlyphs">30.24</text>
<text x="607.6" y="72.3" style="font-size:3.3px;font-style:italic;font-weight:bold;" fill="#111" textLength="9.9" lengthAdjust="spacingAndGlyphs">30.46</text>
<text x="628.8" y="77" style="font-size:3.3px;font-style:italic;font-weight:bold;" fill="#111" textLength="9.4" lengthAdjust="spacingAndGlyphs">34.77</text>
<text x="661.6" y="73.3" style="font-size:3.3px;font-style:italic;font-weight:bold;" fill="#111" textLength="9.4" lengthAdjust="spacingAndGlyphs">12.98</text>
<text x="674" y="50" style="font-size:3.3px;font-style:italic;font-weight:bold;" fill="#111" textLength="7.3" lengthAdjust="spacingAndGlyphs">4.78</text>
<text x="368.4" y="48" style="font-size:3.3px;font-style:italic;font-weight:bold;" fill="#111" textLength="7.1" lengthAdjust="spacingAndGlyphs">4.78</text>
<text x="432.59999999999997" y="59.5" style="font-size:3.3px;font-style:italic;font-weight:bold;" fill="#111" textLength="9.5" lengthAdjust="spacingAndGlyphs" transform="rotate(-90 432.59999999999997 59.5)">12.48</text>
<text x="444.4" y="59.5" style="font-size:3.3px;font-style:italic;font-weight:bold;" fill="#111" textLength="9.5" lengthAdjust="spacingAndGlyphs" transform="rotate(-90 444.4 59.5)">12.48</text>
<text x="503.0" y="59.5" style="font-size:3.3px;font-style:italic;font-weight:bold;" fill="#111" textLength="9.5" lengthAdjust="spacingAndGlyphs" transform="rotate(-90 503.0 59.5)">12.48</text>
<text x="513.9" y="59.5" style="font-size:3.3px;font-style:italic;font-weight:bold;" fill="#111" textLength="9.5" lengthAdjust="spacingAndGlyphs" transform="rotate(-90 513.9 59.5)">12.48</text>
<text x="573.0" y="59.5" style="font-size:3.3px;font-style:italic;font-weight:bold;" fill="#111" textLength="9.5" lengthAdjust="spacingAndGlyphs" transform="rotate(-90 573.0 59.5)">12.48</text>
<text x="584.6" y="59.5" style="font-size:3.3px;font-style:italic;font-weight:bold;" fill="#111" textLength="9.5" lengthAdjust="spacingAndGlyphs" transform="rotate(-90 584.6 59.5)">12.48</text>
<text x="643.2" y="59.5" style="font-size:3.3px;font-style:italic;font-weight:bold;" fill="#111" textLength="9.5" lengthAdjust="spacingAndGlyphs" transform="rotate(-90 643.2 59.5)">12.48</text>
<text x="655.0" y="59.5" style="font-size:3.3px;font-style:italic;font-weight:bold;" fill="#111" textLength="9.5" lengthAdjust="spacingAndGlyphs" transform="rotate(-90 655.0 59.5)">12.48</text>
<text x="372.2" y="75" style="font-size:3.3px;font-style:italic;font-weight:bold;" fill="#111" textLength="9.5" lengthAdjust="spacingAndGlyphs" transform="rotate(-90 372.2 75)">13.37</text>
<text x="379.5" y="63.5" style="font-size:3.3px;font-style:italic;font-weight:bold;" fill="#111" textLength="9.5" lengthAdjust="spacingAndGlyphs" transform="rotate(-90 379.5 63.5)">10.52</text>
<text x="373.8" y="61.4" style="font-size:3.3px;font-style:italic;font-weight:bold;" fill="#111" textLength="8.4" lengthAdjust="spacingAndGlyphs" transform="rotate(-90 373.8 61.4)">8.61</text>
<text x="673.2" y="66" style="font-size:3.3px;font-style:italic;font-weight:bold;" fill="#111" textLength="8.8" lengthAdjust="spacingAndGlyphs" transform="rotate(-90 673.2 66)">10.52</text>
<text x="680.9" y="75.4" style="font-size:3.3px;font-style:italic;font-weight:bold;" fill="#111" textLength="8.8" lengthAdjust="spacingAndGlyphs" transform="rotate(-90 680.9 75.4)">15.02</text>
<text x="389" y="57" style="font-size:3.4px;font-style:italic;font-weight:bold;" fill="#111" transform="rotate(-90 389 57)">2</text>
<text x="404.2" y="57" style="font-size:3.4px;font-style:italic;font-weight:bold;" fill="#111" transform="rotate(-90 404.2 57)">2</text>
<text x="424.5" y="57" style="font-size:3.4px;font-style:italic;font-weight:bold;" fill="#111" transform="rotate(-90 424.5 57)">2</text>
<text x="449" y="57" style="font-size:3.4px;font-style:italic;font-weight:bold;" fill="#111" transform="rotate(-90 449 57)">2</text>
<text x="473.6" y="57" style="font-size:3.4px;font-style:italic;font-weight:bold;" fill="#111" transform="rotate(-90 473.6 57)">2</text>
<text x="494" y="57" style="font-size:3.4px;font-style:italic;font-weight:bold;" fill="#111" transform="rotate(-90 494 57)">2</text>
<text x="517.5" y="57" style="font-size:3.4px;font-style:italic;font-weight:bold;" fill="#111" transform="rotate(-90 517.5 57)">2</text>
<text x="565" y="57" style="font-size:3.4px;font-style:italic;font-weight:bold;" fill="#111" transform="rotate(-90 565 57)">2</text>
<text x="588.5" y="57" style="font-size:3.4px;font-style:italic;font-weight:bold;" fill="#111" transform="rotate(-90 588.5 57)">2</text>
<text x="609.7" y="57" style="font-size:3.4px;font-style:italic;font-weight:bold;" fill="#111" transform="rotate(-90 609.7 57)">2</text>
<text x="634.5" y="57" style="font-size:3.4px;font-style:italic;font-weight:bold;" fill="#111" transform="rotate(-90 634.5 57)">2</text>
<text x="658" y="57" style="font-size:3.4px;font-style:italic;font-weight:bold;" fill="#111" transform="rotate(-90 658 57)">2</text>
<text x="381.1" y="81.6" style="font-size:3.3px;font-style:italic;font-weight:bold;" fill="#111" textLength="10.7" lengthAdjust="spacingAndGlyphs">23.26</text>
<text x="415.2" y="82.8" style="font-size:3.3px;font-style:italic;font-weight:bold;" fill="#111" textLength="3.2" lengthAdjust="spacingAndGlyphs">18</text>
<text x="386.1" y="124.4" style="font-size:3.3px;font-style:italic;font-weight:bold;" fill="#111" textLength="9.2" lengthAdjust="spacingAndGlyphs">18.42</text>
<text x="404.5" y="107.3" style="font-size:3.3px;font-style:italic;font-weight:bold;" fill="#111" textLength="10.6" lengthAdjust="spacingAndGlyphs" transform="rotate(-90 404.5 107.3)">23.18</text>
<text x="412.4" y="107.3" style="font-size:3.3px;font-style:italic;font-weight:bold;" fill="#111" textLength="11.3" lengthAdjust="spacingAndGlyphs" transform="rotate(-90 412.4 107.3)">24.09</text>
<text x="423.9" y="108.7" style="font-size:3.3px;font-style:italic;font-weight:bold;" fill="#111" textLength="9.9" lengthAdjust="spacingAndGlyphs" transform="rotate(-90 423.9 108.7)">24.09</text>
<text x="365.5" y="125.2" style="font-size:3.3px;font-style:italic;font-weight:bold;" fill="#111" textLength="10.7" lengthAdjust="spacingAndGlyphs" transform="rotate(-90 365.5 125.2)">47.36</text>
<text x="415.2" y="120.6" style="font-size:3.3px;font-style:italic;font-weight:bold;" fill="#111" textLength="3.8" lengthAdjust="spacingAndGlyphs">12</text>
<text x="444.9" y="107.7" style="font-size:3.3px;font-style:italic;font-weight:bold;" fill="#111" textLength="3.6" lengthAdjust="spacingAndGlyphs">12</text>
<text x="445.9" y="119.4" style="font-size:3.3px;font-style:italic;font-weight:bold;" fill="#111" textLength="3.3" lengthAdjust="spacingAndGlyphs">10</text>
<text x="436.4" y="116" style="font-size:3.3px;font-style:italic;font-weight:bold;" fill="#111" textLength="8" lengthAdjust="spacingAndGlyphs" transform="rotate(-90 436.4 116)">3.42</text>
<text x="459.6" y="116.5" style="font-size:3.3px;font-style:italic;font-weight:bold;" fill="#111" textLength="8.0" lengthAdjust="spacingAndGlyphs" transform="rotate(-90 459.6 116.5)">3.42</text>
<text x="386.8" y="131.2" style="font-size:3.3px;font-style:italic;font-weight:bold;" fill="#111" textLength="9.2" lengthAdjust="spacingAndGlyphs">18.96</text>
<text x="424.2" y="131.7" style="font-size:3.3px;font-style:italic;font-weight:bold;" fill="#111" textLength="8.8" lengthAdjust="spacingAndGlyphs">23.71</text>
<text x="458.4" y="130.4" style="font-size:3.3px;font-style:italic;font-weight:bold;" fill="#111" textLength="2.8" lengthAdjust="spacingAndGlyphs">10</text>
<text x="458" y="161.4" style="font-size:3.3px;font-style:italic;font-weight:bold;" fill="#111" textLength="3.2" lengthAdjust="spacingAndGlyphs">10</text>
<text x="411.2" y="159.6" style="font-size:3.3px;font-style:italic;font-weight:bold;" fill="#111" textLength="9.6" lengthAdjust="spacingAndGlyphs">36.38</text>
<text x="369.8" y="158.7" style="font-size:3.3px;font-style:italic;font-weight:bold;" fill="#111" textLength="6.4" lengthAdjust="spacingAndGlyphs">8.13</text>
<text x="376.9" y="146.7" style="font-size:3.3px;font-style:italic;font-weight:bold;" fill="#111" textLength="7.1" lengthAdjust="spacingAndGlyphs">4.79</text>
<text x="372.6" y="141.6" style="font-size:3.3px;font-style:italic;font-weight:bold;" fill="#111" textLength="7.1" lengthAdjust="spacingAndGlyphs" transform="rotate(-90 372.6 141.6)">13.9</text>
<text x="378" y="141" style="font-size:3.3px;font-style:italic;font-weight:bold;" fill="#111" textLength="5" lengthAdjust="spacingAndGlyphs" transform="rotate(-90 378 141)">12</text>
<text x="384.6" y="157.9" style="font-size:3.3px;font-style:italic;font-weight:bold;" fill="#111" textLength="7.1" lengthAdjust="spacingAndGlyphs" transform="rotate(-90 384.6 157.9)">7.13</text>
<text x="449.4" y="149.4" style="font-size:3.3px;font-style:italic;font-weight:bold;" fill="#111" textLength="9.2" lengthAdjust="spacingAndGlyphs" transform="rotate(-90 449.4 149.4)">19.57</text>
<text x="453.8" y="147.5" style="font-size:3.3px;font-style:italic;font-weight:bold;" fill="#111" textLength="5.0" lengthAdjust="spacingAndGlyphs" transform="rotate(-90 453.8 147.5)">22</text>
<text x="466.6" y="147" style="font-size:3.4px;font-style:italic;font-weight:bold;" fill="#111" transform="rotate(-90 466.6 147)">2</text>
<text x="629" y="77.2" style="font-size:3.3px;font-style:italic;font-weight:bold;" fill="#111" textLength="8.5" lengthAdjust="spacingAndGlyphs">34.77</text>
<text x="630.2" y="83.2" style="font-size:3.3px;font-style:italic;font-weight:bold;" fill="#111" textLength="3.1" lengthAdjust="spacingAndGlyphs">12</text>
<text x="657.4" y="84.7" style="font-size:3.3px;font-style:italic;font-weight:bold;" fill="#111" textLength="9.9" lengthAdjust="spacingAndGlyphs">23.26</text>
<text x="644.6" y="109.4" style="font-size:3.3px;font-style:italic;font-weight:bold;" fill="#111" textLength="10.6" lengthAdjust="spacingAndGlyphs" transform="rotate(-90 644.6 109.4)">27.18</text>
<text x="679.3" y="123.6" style="font-size:3.3px;font-style:italic;font-weight:bold;" fill="#111" textLength="10.6" lengthAdjust="spacingAndGlyphs" transform="rotate(-90 679.3 123.6)">47.36</text>
<text x="652.4" y="126.4" style="font-size:3.3px;font-style:italic;font-weight:bold;" fill="#111" textLength="9.9" lengthAdjust="spacingAndGlyphs">18.42</text>
<text x="629.7" y="121.3" style="font-size:3.3px;font-style:italic;font-weight:bold;" fill="#111" textLength="3.6" lengthAdjust="spacingAndGlyphs">22</text>
<text x="601.4" y="108.4" style="font-size:3.3px;font-style:italic;font-weight:bold;" fill="#111" textLength="3.6" lengthAdjust="spacingAndGlyphs">12</text>
<text x="600" y="120" style="font-size:3.3px;font-style:italic;font-weight:bold;" fill="#111" textLength="3.5" lengthAdjust="spacingAndGlyphs">10</text>
<text x="623.6" y="101.5" style="font-size:3.4px;font-style:italic;font-weight:bold;" fill="#111">2</text>
<text x="637" y="101.5" style="font-size:3.4px;font-style:italic;font-weight:bold;" fill="#111">2</text>
<text x="590" y="112" style="font-size:3.4px;font-style:italic;font-weight:bold;" fill="#111">3</text>
<text x="615.6" y="116.5" style="font-size:3.3px;font-style:italic;font-weight:bold;" fill="#111" textLength="7.0" lengthAdjust="spacingAndGlyphs" transform="rotate(-90 615.6 116.5)">3.42</text>
<text x="614.6" y="132.2" style="font-size:3.3px;font-style:italic;font-weight:bold;" fill="#111" textLength="9.4" lengthAdjust="spacingAndGlyphs">23.71</text>
<text x="652.4" y="132.6" style="font-size:3.3px;font-style:italic;font-weight:bold;" fill="#111" textLength="9.2" lengthAdjust="spacingAndGlyphs">18.96</text>
<text x="626.9" y="160.5" style="font-size:3.3px;font-style:italic;font-weight:bold;" fill="#111" textLength="9.2" lengthAdjust="spacingAndGlyphs">36.38</text>
<text x="670.4" y="160.5" style="font-size:3.3px;font-style:italic;font-weight:bold;" fill="#111" textLength="7.6" lengthAdjust="spacingAndGlyphs">8.13</text>
<text x="665.9" y="149.7" style="font-size:3.3px;font-style:italic;font-weight:bold;" fill="#111" textLength="6.4" lengthAdjust="spacingAndGlyphs">4.79</text>
<text x="669" y="154.3" style="font-size:3.3px;font-style:italic;font-weight:bold;" fill="#111" textLength="6" lengthAdjust="spacingAndGlyphs">4.79</text>
<text x="664.6" y="159.5" style="font-size:3.3px;font-style:italic;font-weight:bold;" fill="#111" textLength="7.1" lengthAdjust="spacingAndGlyphs" transform="rotate(-90 664.6 159.5)">7.13</text>
<text x="678.8" y="143.9" style="font-size:3.3px;font-style:italic;font-weight:bold;" fill="#111" textLength="7.9" lengthAdjust="spacingAndGlyphs" transform="rotate(-90 678.8 143.9)">13.9</text>
<text x="673.2" y="143" style="font-size:3.3px;font-style:italic;font-weight:bold;" fill="#111" textLength="5" lengthAdjust="spacingAndGlyphs" transform="rotate(-90 673.2 143)">12</text>
<text x="601.8" y="149.6" style="font-size:3.3px;font-style:italic;font-weight:bold;" fill="#111" textLength="10.0" lengthAdjust="spacingAndGlyphs" transform="rotate(-90 601.8 149.6)">19.57</text>
<text x="587.2" y="131.2" style="font-size:3.3px;font-style:italic;font-weight:bold;" fill="#111" textLength="3.6" lengthAdjust="spacingAndGlyphs">10</text>
<text x="587.2" y="162.2" style="font-size:3.3px;font-style:italic;font-weight:bold;" fill="#111" textLength="3.6" lengthAdjust="spacingAndGlyphs">10</text>
<text x="583.1" y="147.5" style="font-size:3.3px;font-style:italic;font-weight:bold;" fill="#111" textLength="3.6" lengthAdjust="spacingAndGlyphs" transform="rotate(-90 583.1 147.5)">22</text>
<text x="596.4" y="147.5" style="font-size:3.4px;font-style:italic;font-weight:bold;" fill="#111" transform="rotate(-90 596.4 147.5)">2</text>
<text x="477.4" y="177" style="font-size:10.5px;font-style:italic;stroke-width:0.55px;" fill="#111" textLength="42.1" lengthAdjust="spacingAndGlyphs">SECOND</text>
<text x="526.7" y="177" style="font-size:10.5px;font-style:italic;stroke-width:0.55px;" fill="#111" textLength="33.5" lengthAdjust="spacingAndGlyphs">FLOOR</text>
<line x1="458.4" y1="180.5" x2="579.3" y2="180.5" stroke="#111" stroke-width="1"/>
<text x="482.1" y="190.7" style="font-size:10.5px;font-style:italic;stroke-width:0.55px;" fill="#111" textLength="22.0" lengthAdjust="spacingAndGlyphs">UNIT</text>
<text x="511.3" y="190.7" style="font-size:10.5px;font-style:italic;stroke-width:0.55px;" fill="#111" textLength="39.7" lengthAdjust="spacingAndGlyphs">DETAILS</text>
<line x1="720.6" y1="0" x2="720.6" y2="50.1" stroke="#111" stroke-width="1" stroke-dasharray="4.6 1.9"/>
<line x1="754.8" y1="0" x2="754.8" y2="50.1" stroke="#111" stroke-width="1.9" stroke-dasharray="4.6 1.9"/>
<line x1="720.6" y1="50.1" x2="776" y2="50.1" stroke="#111" stroke-width="1.1" stroke-dasharray="4.6 1.9"/>
<text x="733.9" y="18.4" style="font-size:11.4px;" fill="#111" textLength="13.7" lengthAdjust="spacingAndGlyphs">U9</text>
<text x="769.3" y="18.4" style="font-size:11.4px;" fill="#111" textLength="13.7" lengthAdjust="spacingAndGlyphs">U8</text>
<polyline points="720,122 720,74.2 761,74.2 761,122" fill="none" stroke="#111" stroke-width="1.1" stroke-dasharray="4.6 1.9" stroke-linejoin="miter"/>
<line x1="720" y1="122.1" x2="776" y2="122.1" stroke="#111" stroke-width="1.9" stroke-dasharray="4.6 1.9"/>
<line x1="761" y1="116" x2="776" y2="116" stroke="#111" stroke-width="0.9" stroke-dasharray="4.6 1.9"/>
<polyline points="719.6,122 719.6,155.4 776,155.4" fill="none" stroke="#111" stroke-width="1.1" stroke-dasharray="4.6 1.9" stroke-linejoin="miter"/>
<text x="731.4" y="102.6" style="font-size:11.4px;" fill="#111" textLength="20.1" lengthAdjust="spacingAndGlyphs">U10</text>
<text x="738.8" y="142.7" style="font-size:11.4px;" fill="#111" textLength="18.8" lengthAdjust="spacingAndGlyphs">U11</text>
<text x="724.2" y="14" style="font-size:3.3px;font-style:italic;font-weight:bold;" fill="#111" textLength="8" lengthAdjust="spacingAndGlyphs" transform="rotate(-90 724.2 14)">47.2</text>
<text x="758.8" y="14" style="font-size:3.3px;font-style:italic;font-weight:bold;" fill="#111" textLength="8" lengthAdjust="spacingAndGlyphs" transform="rotate(-90 758.8 14)">47.2</text>
<text x="732.7" y="49" style="font-size:3.3px;font-style:italic;font-weight:bold;" fill="#111" textLength="6.8" lengthAdjust="spacingAndGlyphs">19.17</text>
<text x="767" y="49" style="font-size:3.3px;font-style:italic;font-weight:bold;" fill="#111" textLength="7" lengthAdjust="spacingAndGlyphs">19.0</text>
<text x="735.5" y="77.8" style="font-size:3.3px;font-style:italic;font-weight:bold;" fill="#111" textLength="8.5" lengthAdjust="spacingAndGlyphs">23.27</text>
<text x="723.8" y="102" style="font-size:3.3px;font-style:italic;font-weight:bold;" fill="#111" textLength="10" lengthAdjust="spacingAndGlyphs" transform="rotate(-90 723.8 102)">25.27</text>
<text x="759.6" y="102" style="font-size:3.3px;font-style:italic;font-weight:bold;" fill="#111" textLength="10" lengthAdjust="spacingAndGlyphs" transform="rotate(-90 759.6 102)">27.41</text>
<text x="735.5" y="120.5" style="font-size:3.3px;font-style:italic;font-weight:bold;" fill="#111" textLength="8.0" lengthAdjust="spacingAndGlyphs">23.94</text>
<text x="735.5" y="126.8" style="font-size:3.3px;font-style:italic;font-weight:bold;" fill="#111" textLength="8.0" lengthAdjust="spacingAndGlyphs">23.94</text>
<text x="723" y="144" style="font-size:3.3px;font-style:italic;font-weight:bold;" fill="#111" textLength="10" lengthAdjust="spacingAndGlyphs" transform="rotate(-90 723 144)">19.17</text>
<text x="756" y="154.2" style="font-size:3.3px;font-style:italic;font-weight:bold;" fill="#111" textLength="9" lengthAdjust="spacingAndGlyphs">47.36</text>
<polygon points="536.2,256.8 555.6,256.8 555.6,262 568.2,262 568.2,256.8 606.3,256.8 606.3,328.3 536.2,328.3 536.2,294.1 541.7,294.1 541.7,283.4 536.2,283.4" fill="#fbe07a" stroke="#3a3008" stroke-width="1.2" stroke-linejoin="miter"/>
<polygon points="606.3,257.4 606.7,262.4 621.8,262.4 621.8,257.6 677.4,257.6 677.4,318.6 673.5,318.6 673.5,328.3 606.3,328.3" fill="#fbe07a" stroke="#3a3008" stroke-width="1.2" stroke-linejoin="miter"/>
<line x1="606.3" y1="257" x2="606.3" y2="311.5" stroke="#3a3008" stroke-width="1.3"/>
<line x1="608.6" y1="311.5" x2="608.6" y2="328.3" stroke="#3a3008" stroke-width="1.4"/>
<line x1="606.3" y1="311.4" x2="608.6" y2="311.4" stroke="#3a3008" stroke-width="1"/>
<rect x="603.3" y="313.4" width="4.9" height="7" fill="#fbe07a" stroke="#3a3008" stroke-width="0.9"/>
<circle cx="606.8" cy="315" r="0.5" fill="#3a3008" stroke="#111" stroke-width="0.3"/>
<path d="M536.2,283.4 L541.7,283.4 L541.7,294.1 L536.2,294.1 L535.4,291 L535.4,286.4 Z" fill="#fff" stroke="#111" stroke-width="0"/>
<path d="M536.6,283.5 L541.7,283.5 L541.7,294.1 L536.6,294.1" fill="none" stroke="#3a3008" stroke-width="1.1"/>
<path d="M533.8,287.2 L537.6,284.2 M533.8,291.2 L537.6,293.6" fill="none" stroke="#111" stroke-width="0.8"/>
<text x="525.8" y="288.2" style="font-size:3.6px;font-style:italic;font-weight:bold;" fill="#111" textLength="8.0" lengthAdjust="spacingAndGlyphs">3.82</text>
<text x="525.8" y="292" style="font-size:3.6px;font-style:italic;font-weight:bold;" fill="#111" textLength="8.0" lengthAdjust="spacingAndGlyphs">3.80</text>
<path d="M563.2,258.6 L566.6,259.8" fill="none" stroke="#111" stroke-width="1.1"/>
<path d="M619.6,258.4 L621.6,260.6" fill="none" stroke="#111" stroke-width="1.2"/>
<line x1="536.2" y1="328.5" x2="776" y2="328.5" stroke="#111" stroke-width="1.6"/>
<polyline points="677.4,258 687.2,258 687.2,268.3 701.2,268.3 701.2,258 746.8,258 746.8,328.3" fill="none" stroke="#111" stroke-width="1.3" stroke-linejoin="miter"/>
<line x1="687.2" y1="262.5" x2="690.6" y2="262.5" stroke="#111" stroke-width="1"/>
<line x1="690.6" y1="261" x2="690.6" y2="263" stroke="#111" stroke-width="1"/>
<line x1="699.6" y1="261.5" x2="699.6" y2="264.5" stroke="#111" stroke-width="1"/>
<polyline points="746.8,258 757.6,258 757.6,262.6 771.5,262.6 771.5,258 776,258" fill="none" stroke="#111" stroke-width="1.3" stroke-linejoin="miter"/>
<line x1="758" y1="259.6" x2="760" y2="261.4" stroke="#111" stroke-width="1"/>
<line x1="687.5" y1="268.4" x2="687.5" y2="302.6" stroke="#111" stroke-width="1" stroke-dasharray="4.2 2"/>
<line x1="707" y1="292.6" x2="707" y2="328" stroke="#111" stroke-width="1" stroke-dasharray="4.2 2"/>
<line x1="677.4" y1="303.1" x2="696.7" y2="303.1" stroke="#111" stroke-width="1.3"/>
<line x1="681.4" y1="303.1" x2="681.4" y2="328.3" stroke="#111" stroke-width="1.3"/>
<line x1="696.7" y1="303.1" x2="696.7" y2="328.3" stroke="#111" stroke-width="1.3"/>
<text x="694.9" y="321.4" style="font-size:7.4px;" fill="#111" textLength="12" lengthAdjust="spacingAndGlyphs" transform="rotate(-90 694.9 321.4)">E27</text>
<circle cx="571" cy="287.8" r="10.8" fill="none" stroke="#755e10" stroke-width="1.15"/>
<text x="570.8" y="292.2" style="font-size:11.8px;font-style:italic;stroke-width:0.2px;stroke:#755e10;" fill="#755e10" text-anchor="middle">4</text>
<circle cx="639.1" cy="281.6" r="10.8" fill="none" stroke="#755e10" stroke-width="1.15"/>
<text x="639.4" y="286.2" style="font-size:11.8px;font-style:italic;stroke-width:0.2px;stroke:#755e10;" fill="#755e10" text-anchor="middle">3</text>
<circle cx="727.9" cy="306.6" r="10.5" fill="none" stroke="#111" stroke-width="1.1"/>
<text x="727.9" y="311.2" style="font-size:12.6px;font-style:italic;" fill="#111" text-anchor="middle">2</text>
<text x="561.5" y="311.5" style="font-size:11.4px;stroke:#755e10;" fill="#755e10" textLength="12.9" lengthAdjust="spacingAndGlyphs">C4</text>
<text x="634" y="319.5" style="font-size:11.4px;stroke:#755e10;" fill="#755e10" textLength="13.2" lengthAdjust="spacingAndGlyphs">C3</text>
<text x="724.7" y="276.4" style="font-size:11.4px;" fill="#111" textLength="12.8" lengthAdjust="spacingAndGlyphs">C2</text>
<text x="591.4" y="319.6" style="font-size:7.8px;stroke:#755e10;" fill="#755e10" textLength="11.7" lengthAdjust="spacingAndGlyphs">E25</text>
<text x="613.3" y="307.6" style="font-size:5.6px;stroke-width:0.15px;stroke:#6a560e;" fill="#6a560e" textLength="47.4" lengthAdjust="spacingAndGlyphs">SEE DETAIL (TYP)</text>
<path d="M612.6,305.4 Q608.8,305.8 607.6,310" fill="none" stroke="#3a3008" stroke-width="0.7"/>
<text x="709.5" y="287.6" style="font-size:5.8px;" fill="#111" textLength="17.8" lengthAdjust="spacingAndGlyphs">E.A.E.</text>
<path d="M709,285.2 Q702,285.5 698,291.7" fill="none" stroke="#111" stroke-width="0.7"/>
<circle cx="698" cy="291.9" r="0.8" fill="#111" stroke="#111" stroke-width="0.5"/>
<text x="540.7" y="260.2" style="font-size:3.3px;font-style:italic;font-weight:bold;stroke:#6e5910;" fill="#6e5910" textLength="9.6" lengthAdjust="spacingAndGlyphs">13.52</text>
<text x="558" y="265.5" style="font-size:3.3px;font-style:italic;font-weight:bold;stroke:#6e5910;" fill="#6e5910" textLength="7.7" lengthAdjust="spacingAndGlyphs">7.98</text>
<text x="539.9" y="274" style="font-size:3.3px;font-style:italic;font-weight:bold;stroke:#6e5910;" fill="#6e5910" textLength="8.2" lengthAdjust="spacingAndGlyphs" transform="rotate(-90 539.9 274)">19.71</text>
<text x="544.7" y="292.4" style="font-size:3.3px;font-style:italic;font-weight:bold;stroke:#6e5910;" fill="#6e5910" textLength="5.4" lengthAdjust="spacingAndGlyphs" transform="rotate(-90 544.7 292.4)">3.27</text>
<text x="539.9" y="316" style="font-size:3.3px;font-style:italic;font-weight:bold;stroke:#6e5910;" fill="#6e5910" textLength="8" lengthAdjust="spacingAndGlyphs" transform="rotate(-90 539.9 316)">19.3</text>
<text x="582.9" y="260.5" style="font-size:3.3px;font-style:italic;font-weight:bold;stroke:#6e5910;" fill="#6e5910" textLength="6.1" lengthAdjust="spacingAndGlyphs">21.1</text>
<text x="609.8" y="265.2" style="font-size:3.3px;font-style:italic;font-weight:bold;stroke:#6e5910;" fill="#6e5910" textLength="6.1" lengthAdjust="spacingAndGlyphs">8.59</text>
<text x="643.6" y="260.6" style="font-size:3.3px;font-style:italic;font-weight:bold;stroke:#6e5910;" fill="#6e5910" textLength="9.2" lengthAdjust="spacingAndGlyphs">26.98</text>
<text x="604.2" y="298" style="font-size:3.3px;font-style:italic;font-weight:bold;stroke:#6e5910;" fill="#6e5910" textLength="10.7" lengthAdjust="spacingAndGlyphs" transform="rotate(-90 604.2 298)">41.71</text>
<text x="609.8" y="300.6" style="font-size:3.3px;font-style:italic;font-weight:bold;stroke:#6e5910;" fill="#6e5910" textLength="7.9" lengthAdjust="spacingAndGlyphs" transform="rotate(-90 609.8 300.6)">38.77</text>
<text x="577.5" y="327.2" style="font-size:3.3px;font-style:italic;font-weight:bold;stroke:#6e5910;" fill="#6e5910" textLength="8.0" lengthAdjust="spacingAndGlyphs">26.21</text>
<text x="636.6" y="327.2" style="font-size:3.3px;font-style:italic;font-weight:bold;stroke:#6e5910;" fill="#6e5910" textLength="9.3" lengthAdjust="spacingAndGlyphs">26.94</text>
<text x="674.8" y="293.4" style="font-size:3.3px;font-style:italic;font-weight:bold;stroke:#6e5910;" fill="#6e5910" textLength="9.2" lengthAdjust="spacingAndGlyphs" transform="rotate(-90 674.8 293.4)">33.15</text>
<text x="676.4" y="326.8" style="font-size:3.3px;font-style:italic;font-weight:bold;stroke:#6e5910;" fill="#6e5910" textLength="5.8" lengthAdjust="spacingAndGlyphs" transform="rotate(-90 676.4 326.8)">2.15</text>
<text x="678.3" y="261" style="font-size:3.3px;font-style:italic;font-weight:bold;" fill="#111" textLength="8.4" lengthAdjust="spacingAndGlyphs">5.98</text>
<text x="689.2" y="271" style="font-size:3.3px;font-style:italic;font-weight:bold;" fill="#111" textLength="7.5" lengthAdjust="spacingAndGlyphs">8.87</text>
<text x="700.5" y="285" style="font-size:3.3px;font-style:italic;font-weight:bold;" fill="#111" textLength="9.1" lengthAdjust="spacingAndGlyphs" transform="rotate(-90 700.5 285)">14.42</text>
<text x="680.5" y="285.2" style="font-size:3.3px;font-style:italic;font-weight:bold;" fill="#111" textLength="7.7" lengthAdjust="spacingAndGlyphs" transform="rotate(-90 680.5 285.2)">20.09</text>
<text x="691.9" y="290" style="font-size:3.3px;font-style:italic;font-weight:bold;" fill="#111" textLength="9.1" lengthAdjust="spacingAndGlyphs" transform="rotate(-90 691.9 290)">20.09</text>
<text x="700.5" y="294.3" style="font-size:3.3px;font-style:italic;font-weight:bold;" fill="#111" textLength="5.4" lengthAdjust="spacingAndGlyphs">9.87</text>
<text x="706.4" y="309.3" style="font-size:3.3px;font-style:italic;font-weight:bold;" fill="#111" textLength="10.0" lengthAdjust="spacingAndGlyphs" transform="rotate(-90 706.4 309.3)">21.09</text>
<text x="685" y="306" style="font-size:3.3px;font-style:italic;font-weight:bold;" fill="#111" textLength="6.7" lengthAdjust="spacingAndGlyphs">7.87</text>
<text x="685.7" y="318.5" style="font-size:3.3px;font-style:italic;font-weight:bold;" fill="#111" textLength="7.5" lengthAdjust="spacingAndGlyphs" transform="rotate(-90 685.7 318.5)">14.36</text>
<text x="701.5" y="320" style="font-size:3.3px;font-style:italic;font-weight:bold;" fill="#111" textLength="9" lengthAdjust="spacingAndGlyphs" transform="rotate(-90 701.5 320)">15.05</text>
<text x="685" y="327.2" style="font-size:3.3px;font-style:italic;font-weight:bold;" fill="#111" textLength="6.7" lengthAdjust="spacingAndGlyphs">7.87</text>
<text x="716.7" y="327.2" style="font-size:3.3px;font-style:italic;font-weight:bold;" fill="#111" textLength="6.7" lengthAdjust="spacingAndGlyphs">28.15</text>
<text x="718.4" y="261.5" style="font-size:3.3px;font-style:italic;font-weight:bold;" fill="#111" textLength="6.7" lengthAdjust="spacingAndGlyphs">22.98</text>
<text x="750.4" y="297.6" style="font-size:3.3px;font-style:italic;font-weight:bold;" fill="#111" textLength="8.4" lengthAdjust="spacingAndGlyphs" transform="rotate(-90 750.4 297.6)">41.71</text>
<text x="748.5" y="261.5" style="font-size:3.3px;font-style:italic;font-weight:bold;" fill="#111" textLength="7.5" lengthAdjust="spacingAndGlyphs">5.98</text>
<text x="761" y="266.8" style="font-size:3.3px;font-style:italic;font-weight:bold;" fill="#111" textLength="7.5" lengthAdjust="spacingAndGlyphs">7.98</text>
<text x="688.7" y="333.2" style="font-size:3.3px;font-style:italic;font-weight:bold;" fill="#111" textLength="11.7" lengthAdjust="spacingAndGlyphs">179.08</text>
<text x="472.2" y="263" style="font-size:7px;font-style:italic;font-weight:bold;" fill="#111" textLength="15.4" lengthAdjust="spacingAndGlyphs">VENT</text>
<text x="491" y="263" style="font-size:7px;font-style:italic;font-weight:bold;" fill="#111" textLength="20" lengthAdjust="spacingAndGlyphs">SHAFT</text>
<text x="473.25" y="308" style="font-size:7px;font-style:italic;font-weight:bold;" fill="#111" textLength="13.25" lengthAdjust="spacingAndGlyphs">E25,</text>
<text x="490.5" y="308" style="font-size:7px;font-style:italic;font-weight:bold;" fill="#111" textLength="11.5" lengthAdjust="spacingAndGlyphs">E26</text>
<text x="473.25" y="315" style="font-size:7px;font-style:italic;font-weight:bold;" fill="#111" textLength="21" lengthAdjust="spacingAndGlyphs">DETAIL</text>
<text x="495.7" y="315" style="font-size:3.6px;font-style:italic;font-weight:bold;" fill="#111" textLength="9" lengthAdjust="spacingAndGlyphs">N.T.S.</text>
<path d="M486.2,272.4 L491,272.4 M486.2,287.6 L491,287.6 M483.9,277.2 L483.9,283 M493,277.2 L493,283 M483.9,276 L483.9,274.6 L486.2,274.6 L486.2,272.4 M493,276 L493,274.6 L491,274.6 L491,272.4 M483.9,284 L483.9,285.4 L486.2,285.4 L486.2,287.6 M493,284 L493,285.4 L491,285.4 L491,287.6" fill="none" stroke="#111" stroke-width="0.9"/>
<text x="486" y="271" style="font-size:3.3px;font-style:italic;font-weight:bold;" fill="#111" textLength="5" lengthAdjust="spacingAndGlyphs">2.5</text>
<text x="486" y="291.2" style="font-size:3.3px;font-style:italic;font-weight:bold;" fill="#111" textLength="5" lengthAdjust="spacingAndGlyphs">2.5</text>
<text x="482" y="283.5" style="font-size:3.3px;font-style:italic;font-weight:bold;" fill="#111" textLength="7.0" lengthAdjust="spacingAndGlyphs" transform="rotate(-90 482 283.5)">3.15</text>
<text x="497.2" y="283.5" style="font-size:3.3px;font-style:italic;font-weight:bold;" fill="#111" textLength="7.0" lengthAdjust="spacingAndGlyphs" transform="rotate(-90 497.2 283.5)">1.41</text>
<line x1="535.9" y1="329" x2="535.9" y2="372.8" stroke="#111" stroke-width="1" stroke-dasharray="4.3 1.9"/>
<line x1="542.6" y1="339" x2="703" y2="339" stroke="#111" stroke-width="1.1" stroke-dasharray="4.3 1.9"/>
<line x1="719.7" y1="339" x2="776" y2="339" stroke="#111" stroke-width="1.1" stroke-dasharray="4.3 1.9"/>
<line x1="542.6" y1="339" x2="542.6" y2="372.8" stroke="#111" stroke-width="1.4" stroke-dasharray="4.3 1.9"/>
<line x1="535.9" y1="372.9" x2="702.5" y2="372.9" stroke="#111" stroke-width="1.1" stroke-dasharray="4.3 1.9"/>
<line x1="702.5" y1="371" x2="702.5" y2="373.4" stroke="#111" stroke-width="1.1"/>
<line x1="720.6" y1="371" x2="720.6" y2="373.4" stroke="#111" stroke-width="1.1"/>
<line x1="720.5" y1="372.9" x2="776" y2="372.9" stroke="#111" stroke-width="1.1" stroke-dasharray="4.3 1.9"/>
<line x1="569.9" y1="339" x2="569.9" y2="372.9" stroke="#111" stroke-width="1.6" stroke-dasharray="4.3 1.9"/>
<line x1="606" y1="339" x2="606" y2="372.9" stroke="#111" stroke-width="1.6" stroke-dasharray="4.3 1.9"/>
<line x1="640.6" y1="339" x2="640.6" y2="372.9" stroke="#111" stroke-width="1.6" stroke-dasharray="4.3 1.9"/>
<line x1="676.2" y1="339" x2="676.2" y2="372.9" stroke="#111" stroke-width="1.6" stroke-dasharray="4.3 1.9"/>
<line x1="746.2" y1="339" x2="746.2" y2="372.9" stroke="#111" stroke-width="1.6" stroke-dasharray="4.3 1.9"/>
<line x1="703" y1="339" x2="703" y2="368.5" stroke="#111" stroke-width="1.5" stroke-dasharray="4.3 1.9"/>
<line x1="719.7" y1="339" x2="719.7" y2="368.5" stroke="#111" stroke-width="1.5" stroke-dasharray="4.3 1.9"/>
<line x1="703" y1="368.3" x2="719.7" y2="368.3" stroke="#111" stroke-width="1.2" stroke-dasharray="3 1.2"/>
<polyline points="711.3,368 711.3,356.8 719.7,356.8" fill="none" stroke="#111" stroke-width="1.3" stroke-dasharray="3 1.2" stroke-linejoin="miter"/>
<path d="M701.2,376.3 L704.6,375.8 Q706,375.6 706.6,373 L707.6,369.6 Q707.9,368.8 709,368.8 L715.2,368.8 Q716.4,368.8 716.9,370.4 L718.4,374.4 Q719,376.3 720.6,376.6 L723,377" fill="none" stroke="#111" stroke-width="0.9"/>
<path d="M531.5,377 Q535.5,376.5 536.8,373" fill="none" stroke="#111" stroke-width="0.7"/>
<text x="551" y="358.9" style="font-size:6.6px;" fill="#111" textLength="12.6" lengthAdjust="spacingAndGlyphs">E23</text>
<text x="582.5" y="358.9" style="font-size:6.6px;" fill="#111" textLength="12.2" lengthAdjust="spacingAndGlyphs">E22</text>
<text x="617.7" y="358.9" style="font-size:6.6px;" fill="#111" textLength="11.6" lengthAdjust="spacingAndGlyphs">E21</text>
<text x="651.9" y="358.9" style="font-size:6.6px;" fill="#111" textLength="12.2" lengthAdjust="spacingAndGlyphs">E20</text>
<text x="684.2" y="358.9" style="font-size:6.6px;" fill="#111" textLength="11.3" lengthAdjust="spacingAndGlyphs">E19</text>
<text x="728.1" y="358.9" style="font-size:6.6px;" fill="#111" textLength="11.2" lengthAdjust="spacingAndGlyphs">E18</text>
<text x="757.9" y="358.9" style="font-size:6.6px;" fill="#111" textLength="11.7" lengthAdjust="spacingAndGlyphs">E17</text>
<text x="706.3" y="337.4" style="font-size:6.8px;" fill="#111" textLength="11.5" lengthAdjust="spacingAndGlyphs">E24</text>
<text x="551.8" y="342.6" style="font-size:3.3px;font-style:italic;font-weight:bold;" fill="#111" textLength="8.4" lengthAdjust="spacingAndGlyphs">18.02</text>
<text x="582.8" y="342.6" style="font-size:3.3px;font-style:italic;font-weight:bold;" fill="#111" textLength="8.4" lengthAdjust="spacingAndGlyphs">19.27</text>
<text x="618" y="342.6" style="font-size:3.3px;font-style:italic;font-weight:bold;" fill="#111" textLength="8.4" lengthAdjust="spacingAndGlyphs">19.94</text>
<text x="652.7" y="342.6" style="font-size:3.3px;font-style:italic;font-weight:bold;" fill="#111" textLength="8.4" lengthAdjust="spacingAndGlyphs">18.94</text>
<text x="684.5" y="342.6" style="font-size:3.3px;font-style:italic;font-weight:bold;" fill="#111" textLength="8.4" lengthAdjust="spacingAndGlyphs">14.94</text>
<text x="728.1" y="342.6" style="font-size:3.3px;font-style:italic;font-weight:bold;" fill="#111" textLength="8.4" lengthAdjust="spacingAndGlyphs">14.94</text>
<text x="759" y="342.6" style="font-size:3.3px;font-style:italic;font-weight:bold;" fill="#111" textLength="8.4" lengthAdjust="spacingAndGlyphs">18.94</text>
<text x="551.8" y="371.7" style="font-size:3.3px;font-style:italic;font-weight:bold;" fill="#111" textLength="8.8" lengthAdjust="spacingAndGlyphs">18.02</text>
<text x="582.8" y="371.7" style="font-size:3.3px;font-style:italic;font-weight:bold;" fill="#111" textLength="8.8" lengthAdjust="spacingAndGlyphs">18.94</text>
<text x="618" y="371.7" style="font-size:3.3px;font-style:italic;font-weight:bold;" fill="#111" textLength="8.8" lengthAdjust="spacingAndGlyphs">18.94</text>
<text x="652.7" y="371.7" style="font-size:3.3px;font-style:italic;font-weight:bold;" fill="#111" textLength="8.8" lengthAdjust="spacingAndGlyphs">18.94</text>
<text x="684.5" y="371.7" style="font-size:3.3px;font-style:italic;font-weight:bold;" fill="#111" textLength="8.8" lengthAdjust="spacingAndGlyphs">15.94</text>
<text x="728.1" y="371.7" style="font-size:3.3px;font-style:italic;font-weight:bold;" fill="#111" textLength="8.8" lengthAdjust="spacingAndGlyphs">14.94</text>
<text x="759" y="371.7" style="font-size:3.3px;font-style:italic;font-weight:bold;" fill="#111" textLength="8.8" lengthAdjust="spacingAndGlyphs">18.94</text>
<text x="618" y="337.9" style="font-size:3.3px;font-style:italic;font-weight:bold;" fill="#111" textLength="9.2" lengthAdjust="spacingAndGlyphs">85.94</text>
<text x="547.0" y="361.3" style="font-size:4.4px;font-style:italic;font-weight:bold;" fill="#111" textLength="14.8" lengthAdjust="spacingAndGlyphs" transform="rotate(-90 547.0 361.3)">15.97</text>
<text x="574.2" y="361.3" style="font-size:4.4px;font-style:italic;font-weight:bold;" fill="#111" textLength="14.8" lengthAdjust="spacingAndGlyphs" transform="rotate(-90 574.2 361.3)">15.97</text>
<text x="610.1" y="361.3" style="font-size:4.4px;font-style:italic;font-weight:bold;" fill="#111" textLength="14.8" lengthAdjust="spacingAndGlyphs" transform="rotate(-90 610.1 361.3)">15.97</text>
<text x="644.5" y="361.3" style="font-size:4.4px;font-style:italic;font-weight:bold;" fill="#111" textLength="14.8" lengthAdjust="spacingAndGlyphs" transform="rotate(-90 644.5 361.3)">15.97</text>
<text x="680.1" y="361.3" style="font-size:4.4px;font-style:italic;font-weight:bold;" fill="#111" textLength="14.8" lengthAdjust="spacingAndGlyphs" transform="rotate(-90 680.1 361.3)">15.97</text>
<text x="750.6" y="361.3" style="font-size:4.4px;font-style:italic;font-weight:bold;" fill="#111" textLength="14.8" lengthAdjust="spacingAndGlyphs" transform="rotate(-90 750.6 361.3)">15.97</text>
<text x="539.2" y="341.8" style="font-size:3.8px;font-style:italic;font-weight:bold;" fill="#111" textLength="10.0" lengthAdjust="spacingAndGlyphs" transform="rotate(-90 539.2 341.8)">2.39</text>
<text x="541.9" y="352.5" style="font-size:3.8px;font-style:italic;font-weight:bold;" fill="#111" textLength="11.0" lengthAdjust="spacingAndGlyphs" transform="rotate(-90 541.9 352.5)">15.17</text>
<text x="539.2" y="368" style="font-size:4.2px;font-style:italic;font-weight:bold;" fill="#111" textLength="9" lengthAdjust="spacingAndGlyphs" transform="rotate(-90 539.2 368)">4.71</text>
<text x="701.6" y="361.4" style="font-size:4.2px;font-style:italic;font-weight:bold;" fill="#111" textLength="13.9" lengthAdjust="spacingAndGlyphs" transform="rotate(-90 701.6 361.4)">15.97</text>
<text x="706.2" y="349.7" style="font-size:3.3px;font-style:italic;font-weight:bold;" fill="#111" textLength="4.2" lengthAdjust="spacingAndGlyphs" transform="rotate(-90 706.2 349.7)">22</text>
<text x="719.4" y="348.8" style="font-size:3.3px;font-style:italic;font-weight:bold;" fill="#111" textLength="5.0" lengthAdjust="spacingAndGlyphs" transform="rotate(-90 719.4 348.8)">15</text>
<text x="724.8" y="356.4" style="font-size:3.3px;font-style:italic;font-weight:bold;" fill="#111" textLength="9.4" lengthAdjust="spacingAndGlyphs" transform="rotate(-90 724.8 356.4)">12.85</text>
<text x="712.6" y="361" style="font-size:3.4px;font-style:italic;font-weight:bold;" fill="#111">5</text>
<text x="709.5" y="363" style="font-size:3.4px;font-style:italic;font-weight:bold;" fill="#111">4</text>
<text x="715.8" y="367" style="font-size:3.3px;font-style:italic;font-weight:bold;" fill="#111" textLength="8" lengthAdjust="spacingAndGlyphs" transform="rotate(-90 715.8 367)">5.13</text>
<text x="524.7" y="378.8" style="font-size:3.8px;font-style:italic;font-weight:bold;" fill="#111" textLength="7.6" lengthAdjust="spacingAndGlyphs">3.67</text>
<text x="694.5" y="378.2" style="font-size:3.6px;font-style:italic;font-weight:bold;" fill="#111" textLength="6.6" lengthAdjust="spacingAndGlyphs">4.04</text>
<text x="723.4" y="379" style="font-size:3.6px;font-style:italic;font-weight:bold;" fill="#111" textLength="6.2" lengthAdjust="spacingAndGlyphs">4.04</text>
<line x1="535" y1="423.4" x2="635.6" y2="423.4" stroke="#111" stroke-width="1.1" stroke-dasharray="4.2 2.2"/>
<line x1="535" y1="423.4" x2="535" y2="456.3" stroke="#111" stroke-width="1.1" stroke-dasharray="4.2 2.2"/>
<line x1="535" y1="456.3" x2="635.6" y2="456.3" stroke="#111" stroke-width="1.1" stroke-dasharray="4.2 2.2"/>
<line x1="550" y1="423.4" x2="550" y2="456.3" stroke="#111" stroke-width="1.1" stroke-dasharray="4.2 2.2"/>
<line x1="558.5" y1="423.4" x2="558.5" y2="456.3" stroke="#111" stroke-width="1.5" stroke-dasharray="4.2 2.2"/>
<line x1="601.4" y1="423.4" x2="601.4" y2="456.3" stroke="#111" stroke-width="1.6" stroke-dasharray="4.2 2.2"/>
<line x1="635.8" y1="423.4" x2="635.8" y2="426.6" stroke="#111" stroke-width="1.5"/>
<line x1="635.8" y1="429" x2="635.8" y2="456.8" stroke="#111" stroke-width="1.6" stroke-dasharray="4.2 2.2"/>
<line x1="535.3" y1="432.9" x2="550" y2="432.9" stroke="#111" stroke-width="1.1" stroke-dasharray="5 1.2"/>
<line x1="550" y1="435.2" x2="558.5" y2="435.2" stroke="#111" stroke-width="1" stroke-dasharray="4.2 2.2"/>
<line x1="635.6" y1="429.2" x2="749.9" y2="429.2" stroke="#111" stroke-width="1.1" stroke-dasharray="4.2 2.2"/>
<line x1="635.6" y1="456.9" x2="776" y2="456.9" stroke="#111" stroke-width="1.1" stroke-dasharray="4.2 2.2"/>
<line x1="650.7" y1="429.2" x2="650.7" y2="456.9" stroke="#111" stroke-width="0.9" stroke-dasharray="4.2 2.5"/>
<line x1="664.8" y1="429.2" x2="664.8" y2="456.9" stroke="#111" stroke-width="0.9" stroke-dasharray="4.2 2.5"/>
<line x1="679.2" y1="429.2" x2="679.2" y2="456.9" stroke="#111" stroke-width="0.9" stroke-dasharray="4.2 2.5"/>
<line x1="693.4" y1="429.2" x2="693.4" y2="456.9" stroke="#111" stroke-width="0.9" stroke-dasharray="4.2 2.5"/>
<line x1="707.7" y1="429.2" x2="707.7" y2="456.9" stroke="#111" stroke-width="0.9" stroke-dasharray="4.2 2.5"/>
<line x1="721.9" y1="429.2" x2="721.9" y2="456.9" stroke="#111" stroke-width="0.9" stroke-dasharray="4.2 2.5"/>
<line x1="736" y1="429.2" x2="736" y2="456.9" stroke="#111" stroke-width="0.9" stroke-dasharray="4.2 2.5"/>
<line x1="749.9" y1="424.7" x2="749.9" y2="457.2" stroke="#111" stroke-width="1.5" stroke-dasharray="4.2 2.2"/>
<line x1="749.9" y1="424.7" x2="776" y2="424.7" stroke="#111" stroke-width="1.1" stroke-dasharray="4.2 2.2"/>
<path d="M530,430.9 Q533.5,430.2 534.3,427.5 L535.3,425" fill="none" stroke="#111" stroke-width="0.8"/>
<path d="M550.2,454 Q552.5,457 554,457.6 Q557,459 559.5,460.4" fill="none" stroke="#111" stroke-width="0.8"/>
<text x="537.6" y="430" style="font-size:7px;" fill="#111" textLength="7.4" lengthAdjust="spacingAndGlyphs">E2</text>
<text x="552.7" y="433.8" style="font-size:7px;" fill="#111" textLength="7.5" lengthAdjust="spacingAndGlyphs">E3</text>
<text x="541" y="451.9" style="font-size:7px;" fill="#111" textLength="6.6" lengthAdjust="spacingAndGlyphs">E1</text>
<text x="577.8" y="442.7" style="font-size:6.3px;" fill="#111" textLength="7.5" lengthAdjust="spacingAndGlyphs">E4</text>
<text x="613.8" y="442.7" style="font-size:6.3px;" fill="#111" textLength="7.6" lengthAdjust="spacingAndGlyphs">E5</text>
<text x="640.3" y="444.8" style="font-size:6.3px;" fill="#111" textLength="7.9" lengthAdjust="spacingAndGlyphs">E6</text>
<text x="654.4" y="444.8" style="font-size:6.3px;" fill="#111" textLength="8.4" lengthAdjust="spacingAndGlyphs">E7</text>
<text x="668.6" y="444.8" style="font-size:6.3px;" fill="#111" textLength="8.4" lengthAdjust="spacingAndGlyphs">E8</text>
<text x="682.9" y="444.8" style="font-size:6.3px;" fill="#111" textLength="7.5" lengthAdjust="spacingAndGlyphs">E9</text>
<text x="694.6" y="444.8" style="font-size:6.3px;" fill="#111" textLength="11.7" lengthAdjust="spacingAndGlyphs">E47</text>
<text x="709.3" y="444.8" style="font-size:6.3px;" fill="#111" textLength="11.3" lengthAdjust="spacingAndGlyphs">E48</text>
<text x="723" y="444.8" style="font-size:6.3px;" fill="#111" textLength="11.5" lengthAdjust="spacingAndGlyphs">E49</text>
<text x="737.3" y="444.8" style="font-size:6.3px;" fill="#111" textLength="10.9" lengthAdjust="spacingAndGlyphs">E50</text>
<text x="761.6" y="443.5" style="font-size:6.3px;" fill="#111" textLength="10.9" lengthAdjust="spacingAndGlyphs">E10</text>
<text x="521.6" y="431.5" style="font-size:3.8px;font-style:italic;font-weight:bold;" fill="#111" textLength="7.9" lengthAdjust="spacingAndGlyphs">8.13</text>
<text x="537.6" y="436.4" style="font-size:3.3px;font-style:italic;font-weight:bold;" fill="#111" textLength="7.5" lengthAdjust="spacingAndGlyphs">8.13</text>
<text x="552.5" y="426.5" style="font-size:3.8px;font-style:italic;font-weight:bold;" fill="#111" textLength="9.5" lengthAdjust="spacingAndGlyphs">8.13</text>
<text x="560.2" y="462.1" style="font-size:3.8px;font-style:italic;font-weight:bold;" fill="#111" textLength="7.8" lengthAdjust="spacingAndGlyphs">8.13</text>
<text x="578.6" y="426.6" style="font-size:3.3px;font-style:italic;font-weight:bold;" fill="#111" textLength="9.3" lengthAdjust="spacingAndGlyphs">19.52</text>
<text x="614" y="427.7" style="font-size:3.3px;font-style:italic;font-weight:bold;" fill="#111" textLength="6.5" lengthAdjust="spacingAndGlyphs">19.27</text>
<text x="578.6" y="455" style="font-size:3.3px;font-style:italic;font-weight:bold;" fill="#111" textLength="9.6" lengthAdjust="spacingAndGlyphs">19.24</text>
<text x="613.8" y="455" style="font-size:3.3px;font-style:italic;font-weight:bold;" fill="#111" textLength="8.4" lengthAdjust="spacingAndGlyphs">19.27</text>
<text x="762.4" y="427.6" style="font-size:3.3px;font-style:italic;font-weight:bold;" fill="#111" textLength="8.4" lengthAdjust="spacingAndGlyphs">19.31</text>
<text x="762.4" y="455.3" style="font-size:3.3px;font-style:italic;font-weight:bold;" fill="#111" textLength="8.4" lengthAdjust="spacingAndGlyphs">19.31</text>
<text x="539" y="448.8" style="font-size:4.2px;font-style:italic;font-weight:bold;" fill="#111" textLength="8.8" lengthAdjust="spacingAndGlyphs" transform="rotate(-90 539 448.8)">13.90</text>
<text x="554.2" y="445.4" style="font-size:4.2px;font-style:italic;font-weight:bold;" fill="#111" textLength="8.6" lengthAdjust="spacingAndGlyphs" transform="rotate(-90 554.2 445.4)">19.77</text>
<text x="600.6" y="445.2" style="font-size:4.4px;font-style:italic;font-weight:bold;" fill="#111" textLength="10.3" lengthAdjust="spacingAndGlyphs" transform="rotate(-90 600.6 445.2)">19.27</text>
<text x="605.9" y="445.2" style="font-size:4.4px;font-style:italic;font-weight:bold;" fill="#111" textLength="10.3" lengthAdjust="spacingAndGlyphs" transform="rotate(-90 605.9 445.2)">19.27</text>
<text x="635.3" y="445.2" style="font-size:4.4px;font-style:italic;font-weight:bold;" fill="#111" textLength="10.6" lengthAdjust="spacingAndGlyphs" transform="rotate(-90 635.3 445.2)">19.27</text>
<text x="753.8" y="445" style="font-size:4.4px;font-style:italic;font-weight:bold;" fill="#111" textLength="10.2" lengthAdjust="spacingAndGlyphs" transform="rotate(-90 753.8 445)">19.31</text>
<text x="566.4" y="433.2" style="font-size:4.2px;font-style:italic;font-weight:bold;" fill="#111" textLength="6.0" lengthAdjust="spacingAndGlyphs" transform="rotate(-90 566.4 433.2)">7.13</text>
<text x="570.2" y="433.2" style="font-size:4.2px;font-style:italic;font-weight:bold;" fill="#111" textLength="6.0" lengthAdjust="spacingAndGlyphs" transform="rotate(-90 570.2 433.2)">4.79</text>
<text x="563" y="435.6" style="font-size:3.6px;font-style:italic;font-weight:bold;" fill="#111" textLength="7" lengthAdjust="spacingAndGlyphs">9.5</text>
<text x="558.3" y="440.8" style="font-size:4.2px;font-style:italic;font-weight:bold;" fill="#111" textLength="9.6" lengthAdjust="spacingAndGlyphs">4.17</text>
<text x="555" y="444.8" style="font-size:3.8px;font-style:italic;font-weight:bold;" fill="#111" textLength="9.8" lengthAdjust="spacingAndGlyphs" transform="rotate(-90 555 444.8)">10.9</text>
<text x="562" y="454.4" style="font-size:4.4px;font-style:italic;font-weight:bold;" fill="#111" textLength="11.4" lengthAdjust="spacingAndGlyphs" transform="rotate(-90 562 454.4)">13.95</text>
<text x="682" y="477.9" style="font-size:10.5px;font-style:italic;stroke-width:0.55px;" fill="#111" textLength="27.3" lengthAdjust="spacingAndGlyphs">FIRST</text>
<text x="717.2" y="477.9" style="font-size:10.5px;font-style:italic;stroke-width:0.55px;" fill="#111" textLength="33.2" lengthAdjust="spacingAndGlyphs">FLOOR</text>
<line x1="655.2" y1="481.5" x2="776" y2="481.5" stroke="#111" stroke-width="1"/>
<text x="678.7" y="492.1" style="font-size:10.5px;font-style:italic;stroke-width:0.55px;" fill="#111" textLength="21.7" lengthAdjust="spacingAndGlyphs">UNIT</text>
<text x="708.8" y="492.1" style="font-size:10.5px;font-style:italic;stroke-width:0.55px;" fill="#111" textLength="39.1" lengthAdjust="spacingAndGlyphs">DETAILS</text>
</svg>
</body></html>
